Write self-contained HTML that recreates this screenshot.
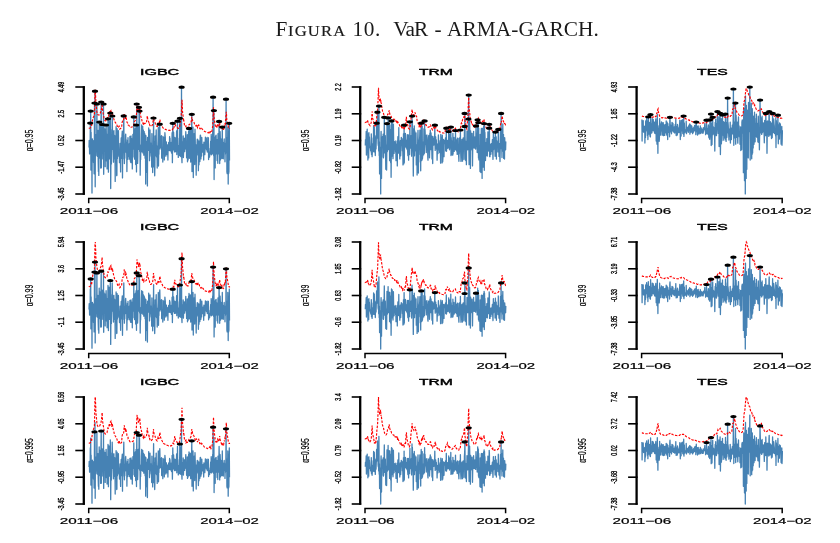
<!DOCTYPE html>
<html lang="es"><head><meta charset="utf-8"><title>Figura 10. VaR - ARMA-GARCH</title>
<style>html,body{margin:0;padding:0;background:#fff}body{width:840px;height:543px;overflow:hidden;position:relative}svg{position:absolute;left:0;top:0;display:block}.cap{position:absolute;left:0;top:17px;width:840px;height:24px;margin:0;font-family:"Liberation Serif",serif;font-size:21.3px;line-height:24px;color:#1a1a1a;white-space:pre;font-weight:normal}.cap span.sc{font-size:15.5px}.cap span{position:absolute;top:0}</style></head><body>
<h1 class="cap"><span style="left:275.5px;letter-spacing:0.6px">F<span class="sc" style="position:static;display:inline-block;transform:scaleX(1.07);transform-origin:0 50%;letter-spacing:1.1px;-webkit-text-stroke:0.2px #1a1a1a">IGURA</span> </span><span style="left:352.6px;letter-spacing:0.6px">10.  </span><span style="left:393.3px;letter-spacing:-0.9px">VaR </span><span style="left:434.4px">- </span><span style="left:447px;letter-spacing:0.1px">ARMA-GARCH.</span></h1>
<svg width="840" height="543" viewBox="0 0 840 543" font-family="'Liberation Sans',sans-serif">
<g>
<polyline fill="none" stroke="#4682b4" stroke-width="1.3" stroke-linejoin="round" points="89,147.4 89.2,140.4 89.4,141.7 89.6,153.9 89.9,151.5 90.1,153 90.3,123.1 90.5,148.1 90.7,111.1 90.9,170.1 91.1,132.3 91.3,149.1 91.6,140.9 91.8,149.6 92,193 92.2,142.2 92.4,138.8 92.6,149.8 92.8,149.2 93.1,140.6 93.3,156.1 93.5,162.5 93.7,142.2 93.9,156 94.1,173.8 94.3,155.6 94.5,103 94.8,163.6 95,91.2 95.2,186.8 95.4,134.6 95.6,149.8 95.8,155.6 96,139.8 96.2,134.5 96.5,151.3 96.7,141.3 96.9,104 97.1,150.5 97.3,156.3 97.5,139.8 97.7,142.2 98,130.4 98.2,161.7 98.4,171.6 98.6,160.5 98.8,175.4 99,145.2 99.2,122.1 99.4,158.3 99.7,126.1 99.9,130.5 100.1,130.5 100.3,135.5 100.5,129 100.7,168.1 100.9,132.4 101.2,102 101.4,167.8 101.6,139.4 101.8,150.5 102,132 102.2,124.5 102.4,147.7 102.6,141.1 102.9,158.9 103.1,127.4 103.3,149.5 103.5,104 103.7,174.3 103.9,126.5 104.1,135.6 104.4,149.9 104.6,137.3 104.8,128.8 105,132.8 105.2,166.7 105.4,133.8 105.6,138.8 105.8,148.6 106.1,125 106.3,132.2 106.5,160.9 106.7,141.4 106.9,134.1 107.1,168.9 107.3,151.4 107.5,164.3 107.8,144.9 108,118.8 108.2,132.3 108.4,172.2 108.6,153.3 108.8,133.4 109,120.9 109.3,138.3 109.5,158.9 109.7,141.1 109.9,147.8 110.1,150.5 110.3,113 110.5,140.2 110.7,188.6 111,148.8 111.2,150.4 111.4,163.9 111.6,152 111.8,129.7 112,149.4 112.2,116 112.5,131.9 112.7,141.2 112.9,137.1 113.1,146.4 113.3,152.1 113.5,162.2 113.7,131.1 113.9,130.7 114.2,157.6 114.4,155.5 114.6,135.5 114.8,159.3 115,151.4 115.2,181.4 115.4,142.3 115.7,135.8 115.9,147.1 116.1,126.6 116.3,153.1 116.5,142.1 116.7,175.7 116.9,175.2 117.1,128.6 117.4,158.5 117.6,140 117.8,140.6 118,131.2 118.2,138.7 118.4,130.6 118.6,148.8 118.8,156.3 119.1,156.3 119.3,155.3 119.5,162.7 119.7,156.6 119.9,149 120.1,143.3 120.3,151.6 120.6,171.9 120.8,148.7 121,144.6 121.2,137.8 121.4,139.6 121.6,158.3 121.8,156.6 122,135.6 122.3,131.1 122.5,177.9 122.7,140.1 122.9,159.1 123.1,142.2 123.3,138.6 123.5,134.5 123.8,115.9 124,143.3 124.2,144.5 124.4,163.5 124.6,149.9 124.8,158.3 125,145.6 125.2,152.2 125.5,135.4 125.7,134.1 125.9,142.7 126.1,139.6 126.3,145.9 126.5,152.7 126.7,149.2 126.9,171.6 127.2,142.5 127.4,147.4 127.6,140.2 127.8,159.4 128,137.7 128.2,156.9 128.4,156.2 128.7,149.8 128.9,153.9 129.1,143.8 129.3,153.9 129.5,159.2 129.7,154.1 129.9,136.5 130.1,147 130.4,161.3 130.6,147.4 130.8,162.5 131,135.9 131.2,162.5 131.4,139.5 131.6,138.7 131.9,161.2 132.1,143.8 132.3,168.9 132.5,139 132.7,142.9 132.9,134.4 133.1,145.3 133.3,142.8 133.6,149.2 133.8,116.9 134,157 134.2,130 134.4,154.7 134.6,159.1 134.8,137.6 135.1,129.8 135.3,128.3 135.5,153.2 135.7,164.5 135.9,154.7 136.1,125 136.3,144.8 136.5,171.9 136.8,104 137,157 137.2,154.1 137.4,160.5 137.6,163.4 137.8,156.9 138,136.3 138.2,125 138.5,147.7 138.7,133 138.9,149.3 139.1,107.3 139.3,145.8 139.5,111.1 139.7,151.4 140,144.8 140.2,175.2 140.4,153.9 140.6,159.7 140.8,150 141,149.4 141.2,152 141.4,134.2 141.7,125 141.9,151.6 142.1,134.7 142.3,134.9 142.5,133.7 142.7,126.3 142.9,152.9 143.2,137.7 143.4,130.1 143.6,138.1 143.8,155.2 144,141.5 144.2,131.6 144.4,144 144.6,154.1 144.9,133.8 145.1,158.3 145.3,142.8 145.5,147.7 145.7,184.1 145.9,135.6 146.1,144 146.4,161.8 146.6,141.3 146.8,151.4 147,172.5 147.2,156.4 147.4,185.9 147.6,137.5 147.8,144.8 148.1,146.9 148.3,140.1 148.5,150.4 148.7,127.9 148.9,144.8 149.1,142.6 149.3,139.8 149.5,160.7 149.8,153.7 150,130 150.2,143.3 150.4,150.2 150.6,143 150.8,152.1 151,144 151.3,156.3 151.5,144.9 151.7,167 151.9,133.6 152.1,152.2 152.3,161.5 152.5,149.5 152.7,172.5 153,145.7 153.2,159.4 153.4,139 153.6,118 153.8,166.9 154,141.7 154.2,152.3 154.5,143.7 154.7,175.8 154.9,165.9 155.1,135.9 155.3,147.9 155.5,139.9 155.7,155.6 155.9,143.2 156.2,129.8 156.4,155.8 156.6,156.9 156.8,148 157,148.1 157.2,168 157.4,145.8 157.7,156.8 157.9,144.9 158.1,139 158.3,127.2 158.5,166 158.7,148.9 158.9,154.2 159.1,141.3 159.4,149.1 159.6,128.1 159.8,124.2 160,135 160.2,145 160.4,147.8 160.6,143.7 160.8,137 161.1,142.7 161.3,149.5 161.5,135.6 161.7,158.2 161.9,148 162.1,154 162.3,152.1 162.6,152.6 162.8,162 163,136.4 163.2,139.2 163.4,148.7 163.6,137.5 163.8,141.9 164,144.2 164.3,159.9 164.5,148.7 164.7,142.4 164.9,132.7 165.1,135.6 165.3,137.3 165.5,152.3 165.8,156.2 166,142.3 166.2,147.3 166.4,142 166.6,148.1 166.8,146 167,154.7 167.2,144.7 167.5,149.1 167.7,145.6 167.9,160 168.1,147.9 168.3,145.7 168.5,147.6 168.7,142.3 169,142.6 169.2,150.6 169.4,150 169.6,136.6 169.8,148.1 170,138.1 170.2,144 170.4,150.9 170.7,150.8 170.9,146.4 171.1,145 171.3,142.5 171.5,153.1 171.7,150 171.9,148 172.1,132.6 172.4,162.7 172.6,143 172.8,123.3 173,144.1 173.2,150 173.4,143 173.6,132.2 173.9,142.5 174.1,140 174.3,142.5 174.5,151.9 174.7,137.4 174.9,148.6 175.1,151.9 175.3,147.7 175.6,148.8 175.8,138 176,147.8 176.2,151.3 176.4,140 176.6,130.8 176.8,154.6 177.1,140.6 177.3,148.3 177.5,121.2 177.7,148.9 177.9,138.1 178.1,146.4 178.3,157.4 178.5,147.7 178.8,154.4 179,145.3 179.2,155.5 179.4,155.6 179.6,145.8 179.8,118.3 180,155.6 180.3,136 180.5,122.8 180.7,156.5 180.9,129.9 181.1,151.5 181.3,149.7 181.5,87.2 181.7,156.4 182,162.7 182.2,141.6 182.4,151.9 182.6,149.2 182.8,154.1 183,149.7 183.2,135.9 183.4,157.5 183.7,149.4 183.9,146.3 184.1,138.6 184.3,138.3 184.5,149.8 184.7,151.6 184.9,144.2 185.2,149 185.4,148.8 185.6,136.9 185.8,131.7 186,145.8 186.2,148.5 186.4,141.4 186.6,157.8 186.9,147.6 187.1,153.9 187.3,134.7 187.5,161.8 187.7,146.3 187.9,148.5 188.1,160.1 188.4,140.6 188.6,131.5 188.8,152.6 189,128.4 189.2,136.5 189.4,158.3 189.6,134.9 189.8,130.3 190.1,145 190.3,148 190.5,134.8 190.7,162.1 190.9,146.1 191.1,129.5 191.3,160.8 191.6,129.8 191.8,114.3 192,171.6 192.2,148.9 192.4,160.6 192.6,143.1 192.8,159.5 193,127.1 193.3,177.5 193.5,142.6 193.7,153.7 193.9,152.2 194.1,133.7 194.3,144.2 194.5,151.2 194.7,164.6 195,129.2 195.2,137.9 195.4,150.2 195.6,145.1 195.8,158.1 196,157.8 196.2,175.2 196.5,144.9 196.7,144.8 196.9,155 197.1,142.4 197.3,139.1 197.5,145.6 197.7,139.3 197.9,150.6 198.2,148.4 198.4,170.7 198.6,147.8 198.8,140.8 199,164.8 199.2,142.3 199.4,156.2 199.7,149.3 199.9,161.5 200.1,138.6 200.3,135.2 200.5,135.3 200.7,139.1 200.9,158.9 201.1,152.7 201.4,151.5 201.6,156 201.8,137.4 202,145.4 202.2,147.6 202.4,144.5 202.6,152.2 202.8,150.6 203.1,151.4 203.3,144.2 203.5,145.8 203.7,160 203.9,142.2 204.1,154.1 204.3,149.5 204.6,146.5 204.8,154.6 205,150.3 205.2,141.5 205.4,137.2 205.6,140.2 205.8,147.1 206,148.4 206.3,137.8 206.5,149.8 206.7,144.2 206.9,141.6 207.1,149.3 207.3,152 207.5,147.6 207.8,137.5 208,141.2 208.2,145.6 208.4,137.9 208.6,159.5 208.8,152 209,154.6 209.2,152.4 209.5,157.1 209.7,156 209.9,153.5 210.1,148.4 210.3,154.2 210.5,144.5 210.7,141.1 211,148.5 211.2,134.4 211.4,143.5 211.6,154.8 211.8,148.8 212,152.7 212.2,136.3 212.4,153.8 212.7,131.3 212.9,135.9 213.1,97.2 213.3,132.2 213.5,114.1 213.7,155.7 213.9,110.5 214.1,179.6 214.4,142.8 214.6,165.1 214.8,137.4 215,162.2 215.2,167.9 215.4,142.5 215.6,135.8 215.9,153.9 216.1,135.2 216.3,146 216.5,150.6 216.7,140.2 216.9,139.7 217.1,160.6 217.3,139.9 217.6,140.5 217.8,163.3 218,133.7 218.2,139.3 218.4,153.9 218.6,140.9 218.8,147 219.1,121.4 219.3,136.2 219.5,145.8 219.7,163.6 219.9,132.4 220.1,131.6 220.3,137.6 220.5,159.8 220.8,157.4 221,139 221.2,154.6 221.4,146.6 221.6,155.6 221.8,149 222,158.4 222.3,127.1 222.5,157 222.7,148.4 222.9,149 223.1,142.6 223.3,158.8 223.5,147.8 223.7,149.4 224,141.7 224.2,139 224.4,151.6 224.6,143.2 224.8,150.9 225,161.8 225.2,148.8 225.4,153.9 225.7,147.8 225.9,137.2 226.1,99.2 226.3,152.5 226.5,141.3 226.7,137.3 226.9,171.8 227.2,173.7 227.4,160.8 227.6,148.7 227.8,127.1 228,139.9 228.2,184.1 228.4,150.6 228.6,173.7 228.9,171.7 229.1,137.8 229.3,123.3 229.5,160.4"/>
<polyline fill="none" stroke="#f00" stroke-width="1.15" stroke-dasharray="2.4 1.4" points="89,128.5 89.1,128.3 89.8,128.2 90.5,127.7 91.3,124.6 91.7,126.3 92,122.8 92.6,119.5 92.8,118.6 93.5,116.9 94.3,115.1 94.4,114.4 95,92.6 95.3,89.7 95.8,99.9 95.8,103.1 96.5,108.4 96.9,111.9 97.3,113.4 97.3,113.7 98,114.8 98.3,114.9 98.8,115 99.5,114.8 99.6,114.5 100.3,113.2 100.5,112.1 101,111.5 101.2,110.6 101.8,106.9 102.1,103.6 102.5,109.4 102.7,111 103.3,114.2 103.7,115.9 104,118.1 104.2,118.8 104.8,120.3 105.1,120.7 105.5,120.8 106.3,120.5 106.9,119.8 107,119.8 107.8,116.6 107.8,115.9 108.5,116.1 109.3,112.9 109.9,114.4 110,111.8 110.8,110.8 110.8,111.7 111.5,111.2 111.7,115 112.3,112.7 113,116.1 113.6,118.4 113.8,118.8 114.5,121.5 114.5,121.5 115.3,122.4 116,123.3 116.5,123.5 116.8,124.6 117.6,126.9 117.6,127 118.3,127.8 119.1,126.2 119.8,128.2 119.9,129 120.6,128.4 121.3,128 121.6,127.7 122.1,122.5 122.5,121.2 122.8,120.4 123.6,120.3 123.6,120.4 124.3,113.9 124.5,115 125.1,115.5 125.3,119 125.8,116.6 126.6,120.1 127,122.2 127.3,122.7 128.1,123.6 128.1,124.9 128.8,125.3 129.6,126.5 130.2,127.3 130.3,127.3 131.1,127.2 131.8,127 132.6,126.8 133.3,126.6 133.4,126.3 134.1,123.2 134.3,121.6 134.8,121.1 135.6,120 136.2,118.7 136.3,116.6 137.1,105.5 137.1,106.2 137.5,109 137.8,107.6 138.4,111.7 138.6,110.8 138.9,111.1 139.3,109.5 139.8,108.2 140.1,111.4 140.4,114.5 140.8,116.3 141.6,118.9 141.6,118.8 142.3,122.3 142.4,122.2 143.1,123.6 143.8,122.5 143.9,124 144.6,123.3 145.4,123.3 146.1,123.2 146.4,122.9 146.9,119.8 147.3,115.9 147.6,118 147.9,119.9 148.4,121.1 149.1,122.8 149.2,122.6 149.7,124.9 149.9,125.4 150.6,126.4 150.8,126.4 151.4,126.1 152.1,125.4 152.6,124.7 152.9,122.7 153.5,116.9 153.6,118 154.1,120.9 154.4,121.8 155.1,122.7 155.3,123.4 155.9,125 155.9,125.2 156.6,126 157.1,126.4 157.4,126.4 158.1,123.4 158.9,124.2 159,124.9 159.6,120.8 159.9,119.6 160.4,122.3 160.6,123.7 161.1,124.7 161.9,126.1 162.2,126.4 162.6,127.3 163.3,128.1 163.4,128.4 164.1,128.7 164.9,129.1 165.6,129.3 165.6,129.5 166.4,129.7 167.1,129.9 167.9,130.1 168.6,130.3 169,130.2 169.4,130.4 170.1,130.4 170.9,130.4 171.3,130.2 171.6,130.2 172.4,129.8 173.1,128.1 173.8,128.7 173.9,127.8 174.7,122.9 174.7,122.5 175.4,125.2 175.4,125.3 176.2,126.3 176.8,127 176.9,127.3 177.4,127.8 177.7,128.1 178.4,128.4 178.6,128.3 179.2,127.8 179.5,127.1 179.9,125 180.4,121.6 180.7,120.6 181.1,117.7 181.4,112.4 182,99.8 182.2,103.8 182.6,112.6 182.9,114.4 183.6,121 183.7,119.6 184.4,124.6 184.5,125.4 185.2,126.5 185.9,125.9 186.1,127.8 186.7,127.2 187.4,127.5 188.2,127.6 188.2,127.5 188.9,125.2 189.1,124.5 189.7,124.3 190.4,123.7 190.9,123.1 191.2,121.7 191.8,116.9 191.9,117.7 192.6,120.3 192.7,120.8 193.4,121.9 194.1,122.6 194.2,123.1 194.9,124.9 194.9,125.2 195.7,125.9 196.4,125.9 196.4,124.5 197.2,126.6 197.5,127.4 197.9,125.5 198.7,125 199.4,127.2 199.8,128.6 200.2,128.5 200.9,129.5 201,129.6 201.7,128.4 202.5,129.4 203.2,130 203.3,130.1 204,130.9 204.4,131.3 204.7,131.5 205.5,131.8 206.2,132.1 206.7,132.1 207,132.4 207.7,132.6 208.5,132.8 209.2,131.8 210,131 210.1,132.6 210.7,131.9 211,132.5 211.5,131.5 211.9,131 212.2,129.2 212.6,126.8 213,119.4 213.5,107.3 213.7,111.5 214.1,117.6 214.5,120.6 215.1,124.5 215.2,125.1 215.7,126.8 216,127.3 216.7,126.2 216.9,127.7 217.5,125.1 218.2,126.2 218.8,127 219,125.6 219.7,122.5 219.7,122.7 220.1,125.4 220.5,126.2 221.1,127.3 221.2,128.1 221.6,128.8 222,127.7 222.7,129.9 222.7,129.4 223.5,129.5 223.6,129.5 224.2,126 224.5,126.8 225,123.9 225.4,124.2 225.7,118.8 226.3,111.9 226.5,114.3 226.8,119.4 227.2,121.4 227.9,124.5 228,125.1 228.4,127.3 228.7,128.1 229.5,128.4 229.5,129"/>
<ellipse cx="95" cy="91.2" rx="3.1" ry="1.6" fill="#000"/>
<ellipse cx="94.5" cy="103" rx="3.1" ry="1.6" fill="#000"/>
<ellipse cx="96.9" cy="104" rx="3.1" ry="1.6" fill="#000"/>
<ellipse cx="101.2" cy="102" rx="3.1" ry="1.6" fill="#000"/>
<ellipse cx="103.6" cy="104" rx="3.1" ry="1.6" fill="#000"/>
<ellipse cx="90.7" cy="111.1" rx="3.1" ry="1.6" fill="#000"/>
<ellipse cx="110.3" cy="113" rx="3.1" ry="1.6" fill="#000"/>
<ellipse cx="112.3" cy="116" rx="3.1" ry="1.6" fill="#000"/>
<ellipse cx="108" cy="118.8" rx="3.1" ry="1.6" fill="#000"/>
<ellipse cx="90.2" cy="123.1" rx="3.1" ry="1.6" fill="#000"/>
<ellipse cx="99.3" cy="122.1" rx="3.1" ry="1.6" fill="#000"/>
<ellipse cx="102.2" cy="124.5" rx="3.1" ry="1.6" fill="#000"/>
<ellipse cx="106" cy="125" rx="3.1" ry="1.6" fill="#000"/>
<ellipse cx="123.7" cy="115.9" rx="3.1" ry="1.6" fill="#000"/>
<ellipse cx="136.7" cy="104" rx="3.1" ry="1.6" fill="#000"/>
<ellipse cx="139" cy="107.3" rx="3.1" ry="1.6" fill="#000"/>
<ellipse cx="139.5" cy="111.1" rx="3.1" ry="1.6" fill="#000"/>
<ellipse cx="133.8" cy="116.9" rx="3.1" ry="1.6" fill="#000"/>
<ellipse cx="136.2" cy="125" rx="3.1" ry="1.6" fill="#000"/>
<ellipse cx="153.5" cy="118" rx="3.1" ry="1.6" fill="#000"/>
<ellipse cx="159.7" cy="124.2" rx="3.1" ry="1.6" fill="#000"/>
<ellipse cx="172.7" cy="123.3" rx="3.1" ry="1.6" fill="#000"/>
<ellipse cx="177.5" cy="121.2" rx="3.1" ry="1.6" fill="#000"/>
<ellipse cx="179.9" cy="118.3" rx="3.1" ry="1.6" fill="#000"/>
<ellipse cx="181.6" cy="87.2" rx="3.1" ry="1.6" fill="#000"/>
<ellipse cx="189" cy="128.4" rx="3.1" ry="1.6" fill="#000"/>
<ellipse cx="191.8" cy="114.3" rx="3.1" ry="1.6" fill="#000"/>
<ellipse cx="213.1" cy="97.2" rx="3.1" ry="1.6" fill="#000"/>
<ellipse cx="213.9" cy="110.5" rx="3.1" ry="1.6" fill="#000"/>
<ellipse cx="219.1" cy="121.4" rx="3.1" ry="1.6" fill="#000"/>
<ellipse cx="222.2" cy="127.1" rx="3.1" ry="1.6" fill="#000"/>
<ellipse cx="226" cy="99.2" rx="3.1" ry="1.6" fill="#000"/>
<ellipse cx="229.2" cy="123.3" rx="3.1" ry="1.6" fill="#000"/>
<path d="M83.8 86.2 V194.8" stroke="#000" stroke-width="2.3" fill="none"/>
<path d="M75.3 194 H84.8" stroke="#000" stroke-width="1.6" fill="none"/>
<text transform="translate(64.2 194) rotate(-90)" font-size="8.7" text-anchor="middle" textLength="13" lengthAdjust="spacingAndGlyphs" fill="#000" stroke="#000" stroke-width="0.35">-3.45</text>
<path d="M75.3 167.2 H84.8" stroke="#000" stroke-width="1.6" fill="none"/>
<text transform="translate(64.2 167.2) rotate(-90)" font-size="8.7" text-anchor="middle" textLength="13" lengthAdjust="spacingAndGlyphs" fill="#000" stroke="#000" stroke-width="0.35">-1.47</text>
<path d="M75.3 140.5 H84.8" stroke="#000" stroke-width="1.6" fill="none"/>
<text transform="translate(64.2 140.5) rotate(-90)" font-size="8.7" text-anchor="middle" textLength="10.4" lengthAdjust="spacingAndGlyphs" fill="#000" stroke="#000" stroke-width="0.35">0.52</text>
<path d="M75.3 113.8 H84.8" stroke="#000" stroke-width="1.6" fill="none"/>
<text transform="translate(64.2 113.8) rotate(-90)" font-size="8.7" text-anchor="middle" textLength="7.5" lengthAdjust="spacingAndGlyphs" fill="#000" stroke="#000" stroke-width="0.35">2.5</text>
<path d="M75.3 87 H84.8" stroke="#000" stroke-width="1.6" fill="none"/>
<text transform="translate(64.2 87) rotate(-90)" font-size="8.7" text-anchor="middle" textLength="10.4" lengthAdjust="spacingAndGlyphs" fill="#000" stroke="#000" stroke-width="0.35">4.49</text>
<text transform="translate(32.7 140.5) rotate(-90)" font-size="10.3" text-anchor="middle" textLength="21.5" lengthAdjust="spacingAndGlyphs" fill="#000" stroke="#000" stroke-width="0.2">α=0.95</text>
<path d="M88.7 203.2 V198.4 H229.3 V203.2" stroke="#000" stroke-width="1.5" fill="none"/>
<text x="89" y="213.6" font-size="8.9" text-anchor="middle" textLength="58.6" lengthAdjust="spacingAndGlyphs" fill="#000" stroke="#000" stroke-width="0.2">2011−06</text>
<text x="229.5" y="213.6" font-size="8.9" text-anchor="middle" textLength="58.6" lengthAdjust="spacingAndGlyphs" fill="#000" stroke="#000" stroke-width="0.2">2014−02</text>
<text x="159.6" y="74.8" font-size="9.9" text-anchor="middle" textLength="39.3" lengthAdjust="spacingAndGlyphs" fill="#000" stroke="#000" stroke-width="0.45">IGBC</text>
</g>
<g>
<polyline fill="none" stroke="#4682b4" stroke-width="1.3" stroke-linejoin="round" points="365.3,145.6 365.5,139.6 365.7,140.8 365.9,142.8 366.2,131.5 366.4,155.1 366.6,148.5 366.8,151.9 367,146.6 367.2,129.2 367.4,145.7 367.6,139.2 367.9,160 368.1,144.5 368.3,150.2 368.5,133.6 368.7,157.9 368.9,132.6 369.1,145.8 369.4,137 369.6,140.4 369.8,147.2 370,147.8 370.2,146.1 370.4,148.3 370.6,150.5 370.8,146.9 371.1,152 371.3,133.8 371.5,154.6 371.7,137.8 371.9,152.3 372.1,156.7 372.3,153.1 372.5,146.4 372.8,148.3 373,143.7 373.2,151.4 373.4,143.7 373.6,125.7 373.8,141.3 374,151.9 374.3,127.1 374.5,147 374.7,139.5 374.9,135.6 375.1,149.4 375.3,155.6 375.5,147.3 375.7,137.5 376,148.9 376.2,142.7 376.4,134.8 376.6,123.2 376.8,138.2 377,123.1 377.2,138.1 377.5,112.2 377.7,137.5 377.9,120.2 378.1,143.4 378.3,145.5 378.5,140.5 378.7,151.1 378.9,106.1 379.2,155.4 379.4,141.8 379.6,173.9 379.8,158.3 380,170.5 380.2,148.3 380.4,147.2 380.7,193.9 380.9,138.1 381.1,131.4 381.3,142.6 381.5,178.4 381.7,156.3 381.9,157.1 382.1,140.2 382.4,137.4 382.6,136.5 382.8,138.5 383,138.6 383.2,134.2 383.4,157.8 383.6,156.2 383.8,141.8 384.1,136.4 384.3,117.3 384.5,134.3 384.7,152.8 384.9,148.9 385.1,143.7 385.3,135.7 385.6,155.8 385.8,169.3 386,145 386.2,151.2 386.4,147.7 386.6,170 386.8,151.2 387,123.6 387.3,151.6 387.5,148.3 387.7,147.8 387.9,145.2 388.1,117.9 388.3,145.7 388.5,149.6 388.8,140.3 389,124.7 389.2,148.6 389.4,139.4 389.6,160.7 389.8,125 390,138 390.2,129.3 390.5,146.1 390.7,162.7 390.9,135.6 391.1,177.3 391.3,153.5 391.5,120.9 391.7,135.2 392,147.2 392.2,121.9 392.4,156 392.6,150.3 392.8,147.3 393,158.7 393.2,152.1 393.4,124.1 393.7,146.5 393.9,153 394.1,153.4 394.3,141.6 394.5,142.1 394.7,143.5 394.9,149.6 395.1,144.3 395.4,144.1 395.6,151.9 395.8,141 396,160.7 396.2,157.7 396.4,147.1 396.6,146.1 396.9,156.5 397.1,143.9 397.3,165.9 397.5,141 397.7,143 397.9,136.7 398.1,140.1 398.3,153.2 398.6,148.2 398.8,127.6 399,153 399.2,144.6 399.4,148.4 399.6,152 399.8,158.9 400.1,144.7 400.3,140.6 400.5,143.1 400.7,155.8 400.9,147.7 401.1,142.4 401.3,137.4 401.5,140.4 401.8,139.8 402,138.7 402.2,141.3 402.4,150.8 402.6,144.9 402.8,149.9 403,164.9 403.2,156.2 403.5,133.7 403.7,152.5 403.9,163.8 404.1,125.2 404.3,162.5 404.5,146 404.7,143.8 405,147.1 405.2,146 405.4,133.5 405.6,138.5 405.8,146.1 406,140.6 406.2,140.3 406.4,148 406.7,144.1 406.9,144.2 407.1,149.6 407.3,134.7 407.5,147.4 407.7,152.3 407.9,155.7 408.2,153 408.4,134.8 408.6,160.2 408.8,140.5 409,147.8 409.2,139.4 409.4,142 409.6,154.6 409.9,121.8 410.1,144.4 410.3,144.1 410.5,145.8 410.7,148 410.9,140.4 411.1,135.6 411.4,141.5 411.6,156.2 411.8,142.5 412,116.1 412.2,142.1 412.4,120.5 412.6,147.3 412.8,145.7 413.1,154.3 413.3,176.1 413.5,156 413.7,128.7 413.9,140.6 414.1,150.1 414.3,125.8 414.5,155.8 414.8,131 415,135.7 415.2,139.3 415.4,147.9 415.6,146.7 415.8,150.9 416,132.8 416.3,164.9 416.5,153.1 416.7,144.7 416.9,153.7 417.1,175 417.3,147.4 417.5,157.6 417.7,140.4 418,130.3 418.2,145 418.4,173 418.6,147.3 418.8,161.9 419,140.1 419.2,141 419.5,140.1 419.7,136.7 419.9,130.1 420.1,139.4 420.3,154.6 420.5,141.2 420.7,170.8 420.9,138.3 421.2,123.2 421.4,135.4 421.6,141.8 421.8,160.6 422,138.5 422.2,126 422.4,159 422.7,155.6 422.9,154.9 423.1,142.5 423.3,150.6 423.5,151.7 423.7,154.8 423.9,129 424.1,148 424.4,153.3 424.6,120.9 424.8,144.3 425,129.3 425.2,133.8 425.4,140.9 425.6,144.1 425.8,144.2 426.1,148 426.3,152.5 426.5,135.5 426.7,148.5 426.9,135 427.1,146.6 427.3,145.5 427.6,145.8 427.8,157.7 428,160.2 428.2,141.6 428.4,137.6 428.6,136.4 428.8,135.5 429,142 429.3,144.7 429.5,157.8 429.7,150.9 429.9,133.2 430.1,143.8 430.3,130.2 430.5,146.4 430.8,149.5 431,132.8 431.2,138.4 431.4,140.5 431.6,135.8 431.8,148.1 432,158.9 432.2,144.1 432.5,154.3 432.7,163.6 432.9,136.4 433.1,140.7 433.3,137.8 433.5,144.6 433.7,145.2 434,139.2 434.2,143.3 434.4,144.8 434.6,140.5 434.8,125.2 435,141.2 435.2,150.4 435.4,141.7 435.7,136.8 435.9,148.7 436.1,139.9 436.3,139.7 436.5,148.3 436.7,149.4 436.9,145 437.1,160.2 437.4,147.5 437.6,144 437.8,147.7 438,153.5 438.2,147.3 438.4,135 438.6,139.7 438.9,146.6 439.1,149.8 439.3,145.6 439.5,145.3 439.7,152.7 439.9,148.9 440.1,142 440.3,140.4 440.6,163.2 440.8,134.5 441,144.9 441.2,140.4 441.4,145.6 441.6,141.2 441.8,137.2 442.1,162.9 442.3,135.2 442.5,143.4 442.7,161.8 442.9,158.4 443.1,142.2 443.3,154.8 443.5,139.5 443.8,144.1 444,156.7 444.2,140.3 444.4,143.5 444.6,140.3 444.8,140.1 445,143.5 445.3,141.1 445.5,137.9 445.7,150.9 445.9,146.6 446.1,146 446.3,128.2 446.5,151.3 446.7,147.5 447,144.3 447.2,144.2 447.4,140.3 447.6,147.6 447.8,148.3 448,147.5 448.2,146.6 448.4,147.7 448.7,131.6 448.9,142.5 449.1,135.5 449.3,139.6 449.5,149.8 449.7,147.1 449.9,134.1 450.2,146.4 450.4,143.5 450.6,146.2 450.8,127.1 451,155.6 451.2,137.6 451.4,142.8 451.6,140.7 451.9,154.5 452.1,147.2 452.3,150.6 452.5,146.9 452.7,155.2 452.9,133.3 453.1,154.1 453.4,143.2 453.6,150.3 453.8,142.5 454,137.4 454.2,151.4 454.4,142.3 454.6,146 454.8,144.6 455.1,144 455.3,149.5 455.5,130.5 455.7,149.2 455.9,148.5 456.1,150.1 456.3,139.8 456.6,151 456.8,141.8 457,143.5 457.2,154.4 457.4,138.2 457.6,153.7 457.8,140.3 458,138.5 458.3,153.5 458.5,151.2 458.7,157 458.9,161.3 459.1,147.9 459.3,153.7 459.5,137.9 459.7,147.7 460,145.8 460.2,151.3 460.4,130 460.6,149.6 460.8,155.9 461,161.4 461.2,156.1 461.5,150.6 461.7,142.5 461.9,139.5 462.1,139.6 462.3,149 462.5,161.2 462.7,141.4 462.9,139.5 463.2,137.9 463.4,145.8 463.6,146.7 463.8,142.5 464,159.6 464.2,158.3 464.4,132.6 464.7,126.4 464.9,113.4 465.1,136.9 465.3,143.2 465.5,141.2 465.7,160.5 465.9,146.5 466.1,147.6 466.4,164.7 466.6,141.2 466.8,145.3 467,131.1 467.2,137.9 467.4,149.1 467.6,149.8 467.9,145.9 468.1,149.5 468.3,129.6 468.5,119.1 468.7,95.1 468.9,150.8 469.1,164.7 469.3,147.6 469.6,118.9 469.8,131.2 470,146 470.2,142.7 470.4,168.4 470.6,130.8 470.8,148.5 471,132.8 471.3,146.7 471.5,148.9 471.7,141.3 471.9,149.9 472.1,133.3 472.3,142.6 472.5,165.9 472.8,142.9 473,147.7 473.2,141.6 473.4,142.5 473.6,131.3 473.8,144.7 474,142.7 474.2,148.2 474.5,147.6 474.7,147.2 474.9,136.8 475.1,143.4 475.3,138.3 475.5,148.1 475.7,149.1 476,125.9 476.2,135.5 476.4,134 476.6,146.5 476.8,137.6 477,136.8 477.2,152.5 477.4,137.5 477.7,119.8 477.9,148.6 478.1,127.3 478.3,122.5 478.5,157.9 478.7,128.3 478.9,159.9 479.1,146 479.4,149.4 479.6,146 479.8,157.2 480,171.6 480.2,134.3 480.4,154.1 480.6,154.6 480.9,172.5 481.1,141.2 481.3,128.9 481.5,128.5 481.7,136.2 481.9,128.5 482.1,178.4 482.3,142.1 482.6,128.5 482.8,144.6 483,142.4 483.2,167 483.4,141.9 483.6,126.4 483.8,145.3 484.1,123.6 484.3,170.3 484.5,125.6 484.7,138.4 484.9,132.4 485.1,141.3 485.3,155.9 485.5,160.5 485.8,142.6 486,145.1 486.2,155.5 486.4,145.5 486.6,148.5 486.8,138.7 487,147.4 487.3,156.1 487.5,146 487.7,148 487.9,131.8 488.1,147.6 488.3,151 488.5,145.9 488.7,146.7 489,144.4 489.2,124.3 489.4,128.2 489.6,156.7 489.8,146.2 490,156.7 490.2,148.5 490.4,144.2 490.7,152.2 490.9,154.3 491.1,147.8 491.3,146.2 491.5,143.7 491.7,151.4 491.9,144.6 492.2,143.1 492.4,139.6 492.6,150.2 492.8,154.5 493,159.4 493.2,141.5 493.4,132.6 493.6,149.6 493.9,143.3 494.1,137.3 494.3,140.3 494.5,148.3 494.7,140.9 494.9,146.6 495.1,156.3 495.4,132.1 495.6,141.8 495.8,150.7 496,143.3 496.2,136.9 496.4,159 496.6,140.5 496.8,142.6 497.1,145.4 497.3,144.7 497.5,147.1 497.7,141.6 497.9,151.9 498.1,146 498.3,129.4 498.6,144.3 498.8,143.9 499,156.4 499.2,151.9 499.4,143.7 499.6,150 499.8,157 500,161.5 500.3,143.3 500.5,129.8 500.7,148.6 500.9,140.9 501.1,113.4 501.3,146.4 501.5,144.5 501.7,144.6 502,157.5 502.2,129.3 502.4,128.3 502.6,138 502.8,123.9 503,151.2 503.2,147.3 503.5,134.5 503.7,158.4 503.9,152.8 504.1,143.1 504.3,156 504.5,159 504.7,137.7 504.9,143.2 505.2,141.7 505.4,149.6 505.6,149.8 505.8,141.6"/>
<polyline fill="none" stroke="#f00" stroke-width="1.15" stroke-dasharray="2.4 1.4" points="365.3,122.2 365.3,122.4 366.1,122.2 366.7,121.9 366.8,121.8 367.6,120.2 367.6,120.5 368.3,123.4 368.3,123.2 369.1,124.4 369.8,125.3 369.8,125.1 370.6,124.1 371.2,122.7 371.3,121.8 372.1,112.5 372.1,111.4 372.6,117.9 372.8,118.8 373.6,121.8 373.7,122.2 374.2,125.1 374.3,125.7 375.1,125.4 375.1,126.6 375.8,124.6 376,124.8 376.6,118.6 376.9,115.2 377.3,112.4 377.6,110.3 378.1,99 378.5,87.8 378.8,95.1 378.9,96.1 379.6,101.5 379.7,101.6 380.3,99.9 380.6,98.5 381,103.5 381.1,102.5 381.8,106.5 381.9,107.3 382.5,110.9 382.6,111.2 383.3,113.1 383.5,113.3 384.1,116.2 384.3,116.9 384.8,118 385.6,119.2 385.8,119.3 386.3,119 386.7,118.4 387.1,117.1 387.6,114.4 387.8,114.5 388.3,113.7 388.6,113.1 389.2,110.4 389.3,111.4 389.8,114 390.1,114.8 390.8,116.2 391.1,116.3 391.6,117.7 392,118.1 392.3,118.6 393.1,119.1 393.8,119.3 393.9,119.6 394.6,119.4 394.7,120.6 395.4,120.9 396.1,120.9 396.5,121.7 396.9,120.4 397.5,123.3 397.6,121.4 398.4,123.3 399.1,124.4 399.5,125 399.9,125.9 400.3,126.9 400.6,127.2 401.4,126.4 401.8,127.8 402.1,128 402.5,128.9 402.9,127.6 403.6,127.7 404.1,129.6 404.4,128 405.1,125.8 405.5,127.2 405.9,121.4 406.4,116.9 406.6,119.3 406.9,122.4 407.4,124 408,126.1 408.1,126.8 408.4,127.9 408.9,128.6 409.3,129.1 409.6,128.4 410,127.3 410.4,124.3 410.9,119.3 411.1,117.7 411.9,111.3 412.1,109.5 412.6,113.1 412.7,113 413.4,114.7 413.9,115.3 414.1,115 414.9,113.1 415,112.4 415.6,114.8 415.6,115.2 416.4,116.3 416.6,116.3 417.1,120.6 417.2,121 417.9,123 418.5,124.2 418.6,125.2 419,126.3 419.4,125.5 420,127.8 420.1,127.3 420.9,125.4 421,126.7 421.7,121.9 421.9,122.6 422.4,121.7 422.6,122.4 423.2,120.6 423.5,119.9 423.9,119.9 424.2,122.8 424.7,122.9 425.4,124.4 425.8,124.9 426.2,124.9 426.5,126.1 426.9,126.2 427.7,126.8 428,127.1 428.4,127.1 429.2,126.9 429.4,126.7 429.9,126 430.3,124.9 430.7,125.2 431.1,127.8 431.4,128 432.2,129.3 432.6,129.8 432.9,128.9 433.7,127.5 434.4,128.2 434.4,128.9 435.2,125.4 435.3,125 435.9,127.9 435.9,128 436.7,129.3 437.2,130 437.4,130.5 437.9,131 438.2,130.3 438.9,130.6 439.5,131.8 439.7,131.6 440.4,132.1 441.2,132.4 441.7,132.6 441.9,132.7 442.7,132.9 443.4,133 444,133 444.2,133 444.9,132.3 444.9,132.4 445.7,128.8 445.8,128.8 446.4,128.3 446.5,128.4 447.2,126.7 447.4,126.1 447.9,127.8 448.2,128.5 448.7,129.1 449.4,128.3 449.7,129.7 450.2,129.6 451,130.3 451.7,130.9 452,131 452.5,130.9 452.7,130.7 453.2,129.9 453.6,129.1 454,129 454.7,128.6 455.4,128.1 455.5,128.4 456,129.8 456.2,130.2 457,130.9 457.3,131 457.7,131.5 458.5,131.9 458.9,131.8 459.2,130.3 460,130.2 460.2,130.4 460.7,126.8 461.1,123.9 461.5,122.8 461.8,123.1 462.2,121.1 462.7,119.1 463,118.9 463.7,118.3 463.7,118.2 464.5,113.2 464.6,113.9 464.9,120 465.2,121.3 465.7,124.1 466,126.3 466.1,127 466.7,128.8 466.8,129 467.5,120.7 467.8,118.9 468.2,106.9 468.7,97.4 469,105.3 469,106.9 469.7,112.8 469.8,113.3 470.3,118.6 470.5,119.3 471.2,121.8 471.4,122.2 472,124.1 472,124 472.7,124.9 473.2,125.1 473.5,125.9 473.8,126.3 474.2,126.9 474.8,127.1 475,127.1 475.7,126.4 475.8,126.2 476.5,123.1 476.7,122.2 477.2,120.8 477.4,121.3 478,118.9 478.3,118.2 478.8,120.2 478.9,120.6 479.5,121.6 480.1,122.2 480.3,122.8 480.6,123.1 481,121.7 481.7,123.9 481.8,123.1 482.5,121.2 482.8,121.3 483.3,121 484,120.7 484,119.4 484.5,123.8 484.8,123.9 485.5,125.8 485.6,126 486.2,127.8 486.3,128 487,128.8 487.4,128.9 487.8,127.5 488.5,127.8 488.8,128 489.3,125.7 489.7,124.1 490,125.8 490.4,127.7 490.8,128.3 491.5,129.5 491.9,130 492.3,130.7 492.7,131 493,130.3 493.8,131.3 494.2,131.9 494.5,131.8 495.3,131.7 496,131.6 496.5,131.4 496.8,131.5 497.5,131.4 497.9,131.2 498.3,130.8 498.8,130 499,129.9 499.7,129 499.8,128.8 500.5,124.8 500.6,124.1 501.3,121.7 501.3,122.4 502,117 502.2,116.1 502.7,119.7 502.8,119.8 503.5,121.7 503.8,122 504.3,121.8 504.4,123.5 505,123.8 505.6,125 505.8,124.9"/>
<ellipse cx="379" cy="106.1" rx="3.1" ry="1.6" fill="#000"/>
<ellipse cx="377.4" cy="112.2" rx="3.1" ry="1.6" fill="#000"/>
<ellipse cx="376.7" cy="123.2" rx="3.1" ry="1.6" fill="#000"/>
<ellipse cx="384.2" cy="117.3" rx="3.1" ry="1.6" fill="#000"/>
<ellipse cx="388.1" cy="117.9" rx="3.1" ry="1.6" fill="#000"/>
<ellipse cx="387" cy="123.6" rx="3.1" ry="1.6" fill="#000"/>
<ellipse cx="391.5" cy="120.9" rx="3.1" ry="1.6" fill="#000"/>
<ellipse cx="404.1" cy="125.2" rx="3.1" ry="1.6" fill="#000"/>
<ellipse cx="409.8" cy="121.8" rx="3.1" ry="1.6" fill="#000"/>
<ellipse cx="412.1" cy="116.1" rx="3.1" ry="1.6" fill="#000"/>
<ellipse cx="421.2" cy="123.2" rx="3.1" ry="1.6" fill="#000"/>
<ellipse cx="424.6" cy="120.9" rx="3.1" ry="1.6" fill="#000"/>
<ellipse cx="434.9" cy="125.2" rx="3.1" ry="1.6" fill="#000"/>
<ellipse cx="446.3" cy="128.2" rx="3.1" ry="1.6" fill="#000"/>
<ellipse cx="448.6" cy="131.6" rx="3.1" ry="1.6" fill="#000"/>
<ellipse cx="450.9" cy="127.1" rx="3.1" ry="1.6" fill="#000"/>
<ellipse cx="455.4" cy="130.5" rx="3.1" ry="1.6" fill="#000"/>
<ellipse cx="460.4" cy="130" rx="3.1" ry="1.6" fill="#000"/>
<ellipse cx="464.6" cy="126.4" rx="3.1" ry="1.6" fill="#000"/>
<ellipse cx="464.6" cy="113.4" rx="3.1" ry="1.6" fill="#000"/>
<ellipse cx="468.7" cy="95.1" rx="3.1" ry="1.6" fill="#000"/>
<ellipse cx="468.4" cy="119.1" rx="3.1" ry="1.6" fill="#000"/>
<ellipse cx="476" cy="125.9" rx="3.1" ry="1.6" fill="#000"/>
<ellipse cx="477.6" cy="119.8" rx="3.1" ry="1.6" fill="#000"/>
<ellipse cx="478.3" cy="122.5" rx="3.1" ry="1.6" fill="#000"/>
<ellipse cx="484" cy="123.6" rx="3.1" ry="1.6" fill="#000"/>
<ellipse cx="489.2" cy="124.3" rx="3.1" ry="1.6" fill="#000"/>
<ellipse cx="489.2" cy="128.2" rx="3.1" ry="1.6" fill="#000"/>
<ellipse cx="495.4" cy="132.1" rx="3.1" ry="1.6" fill="#000"/>
<ellipse cx="498.3" cy="129.4" rx="3.1" ry="1.6" fill="#000"/>
<ellipse cx="501.1" cy="113.4" rx="3.1" ry="1.6" fill="#000"/>
<path d="M360.2 86.2 V194.8" stroke="#000" stroke-width="2.3" fill="none"/>
<path d="M351.7 194 H361.2" stroke="#000" stroke-width="1.6" fill="none"/>
<text transform="translate(340.6 194) rotate(-90)" font-size="8.7" text-anchor="middle" textLength="13" lengthAdjust="spacingAndGlyphs" fill="#000" stroke="#000" stroke-width="0.35">-1.82</text>
<path d="M351.7 167.2 H361.2" stroke="#000" stroke-width="1.6" fill="none"/>
<text transform="translate(340.6 167.2) rotate(-90)" font-size="8.7" text-anchor="middle" textLength="13" lengthAdjust="spacingAndGlyphs" fill="#000" stroke="#000" stroke-width="0.35">-0.82</text>
<path d="M351.7 140.5 H361.2" stroke="#000" stroke-width="1.6" fill="none"/>
<text transform="translate(340.6 140.5) rotate(-90)" font-size="8.7" text-anchor="middle" textLength="10.4" lengthAdjust="spacingAndGlyphs" fill="#000" stroke="#000" stroke-width="0.35">0.19</text>
<path d="M351.7 113.8 H361.2" stroke="#000" stroke-width="1.6" fill="none"/>
<text transform="translate(340.6 113.8) rotate(-90)" font-size="8.7" text-anchor="middle" textLength="10.4" lengthAdjust="spacingAndGlyphs" fill="#000" stroke="#000" stroke-width="0.35">1.19</text>
<path d="M351.7 87 H361.2" stroke="#000" stroke-width="1.6" fill="none"/>
<text transform="translate(340.6 87) rotate(-90)" font-size="8.7" text-anchor="middle" textLength="7.5" lengthAdjust="spacingAndGlyphs" fill="#000" stroke="#000" stroke-width="0.35">2.2</text>
<text transform="translate(309.1 140.5) rotate(-90)" font-size="10.3" text-anchor="middle" textLength="21.5" lengthAdjust="spacingAndGlyphs" fill="#000" stroke="#000" stroke-width="0.2">α=0.95</text>
<path d="M365 203.2 V198.4 H505.6 V203.2" stroke="#000" stroke-width="1.5" fill="none"/>
<text x="365.3" y="213.6" font-size="8.9" text-anchor="middle" textLength="58.6" lengthAdjust="spacingAndGlyphs" fill="#000" stroke="#000" stroke-width="0.2">2011−06</text>
<text x="505.8" y="213.6" font-size="8.9" text-anchor="middle" textLength="58.6" lengthAdjust="spacingAndGlyphs" fill="#000" stroke="#000" stroke-width="0.2">2014−02</text>
<text x="435.9" y="74.8" font-size="9.9" text-anchor="middle" textLength="33.8" lengthAdjust="spacingAndGlyphs" fill="#000" stroke="#000" stroke-width="0.45">TRM</text>
</g>
<g>
<polyline fill="none" stroke="#4682b4" stroke-width="1.3" stroke-linejoin="round" points="641.9,119.5 642.1,141 642.3,124.5 642.5,129.4 642.8,122.1 643,127.6 643.2,120.6 643.4,129.7 643.6,132.1 643.8,127 644,127.6 644.2,131.4 644.5,130.9 644.7,126.1 644.9,143 645.1,132.2 645.3,131.3 645.5,137.4 645.7,120.8 646,131 646.2,123 646.4,127.5 646.6,118 646.8,121.6 647,128 647.2,121.3 647.4,135.4 647.7,121 647.9,139.6 648.1,127 648.3,116.8 648.5,126.8 648.7,131.9 648.9,134.1 649.1,132 649.4,122.5 649.6,122.7 649.8,131.1 650,136.2 650.2,125.5 650.4,136.9 650.6,114.5 650.9,133.5 651.1,123.7 651.3,128.6 651.5,127 651.7,127.9 651.9,132.8 652.1,125.8 652.3,118.6 652.6,130.1 652.8,123.3 653,130.7 653.2,119.3 653.4,122.1 653.6,122.2 653.8,126.6 654.1,121.9 654.3,132 654.5,132 654.7,133.1 654.9,122.8 655.1,133.5 655.3,133.4 655.5,123 655.8,118.8 656,124.9 656.2,141 656.4,135.7 656.6,136.3 656.8,137.2 657,144.2 657.3,114.3 657.5,131.8 657.7,133.1 657.9,153.3 658.1,129.2 658.3,128.7 658.5,133.3 658.7,129.9 659,125.6 659.2,141.3 659.4,138.4 659.6,118.6 659.8,123.5 660,132.8 660.2,134.7 660.4,130.7 660.7,135.1 660.9,131.6 661.1,123.7 661.3,128.8 661.5,121.8 661.7,130.8 661.9,127.8 662.2,123 662.4,135.2 662.6,131.2 662.8,130.5 663,128.4 663.2,122.6 663.4,125.6 663.6,135.7 663.9,130.9 664.1,134.6 664.3,133.8 664.5,124.8 664.7,135.4 664.9,128 665.1,132.8 665.4,124.6 665.6,127.5 665.8,128.9 666,130.2 666.2,121 666.4,133.7 666.6,133.4 666.8,135.1 667.1,122.1 667.3,131.1 667.5,133.5 667.7,139.6 667.9,123.7 668.1,130.3 668.3,126.3 668.6,127.4 668.8,129.9 669,132.4 669.2,131.1 669.4,131.1 669.6,136.8 669.8,119.9 670,117.3 670.3,129.3 670.5,130.5 670.7,131.9 670.9,125.3 671.1,130.4 671.3,127.5 671.5,133.8 671.7,127.7 672,122.4 672.2,130.9 672.4,124.7 672.6,129.6 672.8,123.1 673,123.8 673.2,129.5 673.5,132 673.7,128.3 673.9,129.6 674.1,131.6 674.3,126.9 674.5,127.1 674.7,133 674.9,130.2 675.2,124.5 675.4,126.2 675.6,129.5 675.8,119.1 676,131.2 676.2,135.5 676.4,134.5 676.7,134.3 676.9,129 677.1,126.4 677.3,135.1 677.5,124.3 677.7,133 677.9,128.7 678.1,127.9 678.4,128.2 678.6,129.8 678.8,128.9 679,132.5 679.2,128.6 679.4,125.7 679.6,125.4 679.8,120.2 680.1,124.7 680.3,139.6 680.5,125.1 680.7,128.1 680.9,134.2 681.1,136.1 681.3,120.4 681.6,124.8 681.8,121 682,130.8 682.2,126.6 682.4,119.7 682.6,125 682.8,133.5 683,131.5 683.3,125.7 683.5,134.2 683.7,116.1 683.9,136.4 684.1,133.4 684.3,122.8 684.5,129.2 684.8,131.5 685,132.6 685.2,130.1 685.4,130.3 685.6,131 685.8,130.4 686,131.3 686.2,121.2 686.5,133.7 686.7,129.4 686.9,132 687.1,127.6 687.3,130.3 687.5,128.8 687.7,127.9 688,129.1 688.2,126.6 688.4,132.3 688.6,125.8 688.8,130.3 689,128.4 689.2,124.9 689.4,125.9 689.7,123.9 689.9,134.2 690.1,132.2 690.3,124.6 690.5,132.3 690.7,130.3 690.9,127.4 691.1,125.3 691.4,132.2 691.6,126.7 691.8,126 692,129.4 692.2,130.2 692.4,128.8 692.6,133.7 692.9,129.2 693.1,132.6 693.3,127.8 693.5,127.8 693.7,131.8 693.9,127.1 694.1,128.2 694.3,130 694.6,125.5 694.8,130.7 695,130.5 695.2,129.6 695.4,130 695.6,124.8 695.8,134.7 696.1,130.7 696.3,122.1 696.5,131.3 696.7,128.7 696.9,129.9 697.1,126.2 697.3,128.8 697.5,135.1 697.8,132.8 698,127.6 698.2,125.9 698.4,129.7 698.6,133.5 698.8,128.1 699,134 699.3,128.8 699.5,130.1 699.7,129.2 699.9,133 700.1,131.1 700.3,126 700.5,131 700.7,133.5 701,130.1 701.2,129.8 701.4,130.3 701.6,131.8 701.8,127.9 702,130.3 702.2,133 702.4,129.4 702.7,130.1 702.9,129.7 703.1,133.2 703.3,131.9 703.5,128.9 703.7,127.7 703.9,129.2 704.2,129.6 704.4,128 704.6,126.8 704.8,123.6 705,128.3 705.2,131.1 705.4,128.3 705.6,134.7 705.9,129.8 706.1,130.9 706.3,129.9 706.5,120.2 706.7,129.8 706.9,133.6 707.1,130.8 707.4,132.7 707.6,130 707.8,128.5 708,134.3 708.2,127.2 708.4,124.9 708.6,131 708.8,137.3 709.1,137.9 709.3,132.4 709.5,126.2 709.7,139.3 709.9,119.8 710.1,136.8 710.3,124.7 710.6,123.7 710.8,134.9 711,114.1 711.2,145.6 711.4,123.8 711.6,127.6 711.8,123.8 712,144.6 712.3,128.1 712.5,132.7 712.7,117.3 712.9,134.7 713.1,130.5 713.3,126.7 713.5,129.1 713.7,133.4 714,127.7 714.2,130.6 714.4,134.6 714.6,135.7 714.8,151 715,129.3 715.2,122.3 715.5,133.2 715.7,119.1 715.9,128.1 716.1,123.5 716.3,135.7 716.5,135.4 716.7,131.7 716.9,124.1 717.2,128.7 717.4,111.6 717.6,128 717.8,124.1 718,128.4 718.2,133.4 718.4,125.8 718.7,129 718.9,116.9 719.1,146.5 719.3,129 719.5,132.1 719.7,120.2 719.9,119.7 720.1,113.4 720.4,154.5 720.6,142.4 720.8,127.3 721,121.6 721.2,118.7 721.4,143.8 721.6,131 721.9,140.6 722.1,136.8 722.3,131.4 722.5,115 722.7,133.3 722.9,135 723.1,132.3 723.3,121.7 723.6,122 723.8,140.2 724,131.9 724.2,133.2 724.4,123.1 724.6,127.4 724.8,122.2 725,138.1 725.3,129.7 725.5,114.1 725.7,140 725.9,131.4 726.1,141.4 726.3,122.7 726.5,125.7 726.8,137.4 727,135 727.2,118.5 727.4,133.1 727.6,98.1 727.8,126 728,122.5 728.2,124.8 728.5,131.5 728.7,134.3 728.9,140 729.1,130.1 729.3,129.2 729.5,132.4 729.7,130.9 730,136.3 730.2,122.2 730.4,143 730.6,134.7 730.8,132.9 731,130.7 731.2,128.1 731.4,139.6 731.7,128.2 731.9,133.2 732.1,130.7 732.3,125.1 732.5,125.9 732.7,133.9 732.9,130.3 733.2,118 733.4,89 733.6,124.3 733.8,145.3 734,121.9 734.2,126.3 734.4,133.5 734.6,137.9 734.9,123.3 735.1,125.5 735.3,116.2 735.5,103.1 735.7,144.2 735.9,132.9 736.1,115.2 736.3,123.5 736.6,134.8 736.8,137.3 737,130.7 737.2,132 737.4,122.1 737.6,135.1 737.8,143.2 738.1,130 738.3,122 738.5,116.9 738.7,135.3 738.9,132.5 739.1,125.8 739.3,136.7 739.5,132.3 739.8,133.6 740,144.3 740.2,137.2 740.4,136.3 740.6,126.8 740.8,150.5 741,128.5 741.3,146.8 741.5,141.7 741.7,149.5 741.9,122 742.1,120.8 742.3,119.8 742.5,123.3 742.7,133.2 743,129.1 743.2,126.3 743.4,172.7 743.6,122.2 743.8,108.4 744,165.2 744.2,137.8 744.5,180.7 744.7,136.1 744.9,132.6 745.1,101.3 745.3,193.9 745.5,95.8 745.7,130.7 745.9,122.9 746.2,178.4 746.4,105.4 746.6,136.3 746.8,169.3 747,136.5 747.2,157 747.4,110.2 747.6,128.1 747.9,129.6 748.1,140.7 748.3,157.9 748.5,102.5 748.7,122.7 748.9,131.7 749.1,123.9 749.4,102.8 749.6,116.3 749.8,87.1 750,135.7 750.2,160.1 750.4,118.2 750.6,148.7 750.8,113.9 751.1,146.5 751.3,103.2 751.5,145.5 751.7,158.8 751.9,126 752.1,154.5 752.3,108.7 752.6,153 752.8,135.9 753,133.9 753.2,147.9 753.4,131.8 753.6,116.2 753.8,130.2 754,144.3 754.3,123.8 754.5,112.2 754.7,122.6 754.9,118.5 755.1,141.8 755.3,123.7 755.5,123.3 755.7,132.2 756,130.2 756.2,136.3 756.4,114.2 756.6,132.2 756.8,137.3 757,127.8 757.2,128.7 757.5,123.5 757.7,136.9 757.9,141.9 758.1,124.4 758.3,116.2 758.5,124.6 758.7,142.4 758.9,127.5 759.2,137.4 759.4,149.8 759.6,136 759.8,135.5 760,100.1 760.2,110.2 760.4,117.8 760.7,120.8 760.9,132.8 761.1,128.4 761.3,130.1 761.5,117.7 761.7,134.4 761.9,133.3 762.1,116.2 762.4,126.1 762.6,132.3 762.8,128.8 763,128.8 763.2,128.5 763.4,123 763.6,127.3 763.9,131 764.1,134.2 764.3,142.8 764.5,132.9 764.7,120.3 764.9,127.7 765.1,135.3 765.3,131.4 765.6,135.7 765.8,113.4 766,122.1 766.2,121.6 766.4,124.3 766.6,121.4 766.8,131.7 767,153.3 767.3,129.6 767.5,133.4 767.7,120.8 767.9,128.6 768.1,134.8 768.3,125.7 768.5,123.1 768.8,136.4 769,115.7 769.2,111.6 769.4,130.6 769.6,135.1 769.8,129.6 770,127.4 770.2,121.6 770.5,122.3 770.7,127.2 770.9,135.2 771.1,127.8 771.3,132.9 771.5,138.5 771.7,123.2 772,135.1 772.2,137.7 772.4,129 772.6,113.4 772.8,130.2 773,126.8 773.2,132.7 773.4,128.7 773.7,119 773.9,121.7 774.1,124.3 774.3,125.8 774.5,133.5 774.7,130.8 774.9,132.5 775.2,129.5 775.4,128.8 775.6,136.1 775.8,117.7 776,147.6 776.2,126.9 776.4,120.6 776.6,130.1 776.9,134.7 777.1,129.6 777.3,122.9 777.5,126.3 777.7,132.3 777.9,115.2 778.1,131.1 778.3,143.8 778.6,128.6 778.8,125 779,124.8 779.2,130.3 779.4,139 779.6,122.9 779.8,131.1 780.1,124.8 780.3,123.9 780.5,127.7 780.7,130.4 780.9,135.3 781.1,144.2 781.3,129.6 781.5,133.3 781.8,126.5 782,145.3 782.2,140 782.4,130.2"/>
<polyline fill="none" stroke="#f00" stroke-width="1.15" stroke-dasharray="2.4 1.4" points="641.9,116 642.6,116.4 642.7,116.3 643.4,116.5 644.2,116.6 644.9,116.8 645.7,116.9 646,116.8 646.4,116.9 647.2,116.8 647.9,116.8 648.7,116.2 649.4,116.4 649.6,116.5 650.2,115.9 650.5,115.5 650.9,116.1 651.3,116.6 651.7,116.9 652.4,117.2 652.8,117.3 653.2,116.9 653.9,117.2 654.7,117.3 655.1,117.3 655.4,116.6 656,116.5 656.2,115.4 656.9,113.3 656.9,113.5 657.7,109.8 658.1,108.9 658.4,111.9 658.5,112.3 659.2,114.4 659.2,114.6 659.7,116.2 659.9,116.5 660.7,117.3 660.8,117.4 661.4,117.6 662.2,117.8 662.9,117.6 663.7,118 664.2,118.3 664.4,118.3 665.2,117.8 665.9,118.1 666.5,118.2 666.7,117.8 667.4,117.6 668.2,117.8 668.4,118 668.9,117.1 669.3,116.8 669.7,116.7 670.5,116.6 671.1,116.4 671.2,116.6 672,117.2 672.2,117.3 672.7,117.5 673.5,117.7 674.2,117.9 674.5,117.9 675,118 675.7,118.1 676.5,118.2 677.2,118.3 677.9,118.3 678,118.4 678.7,118.2 679.5,118.1 680.2,117.6 681,117.7 681.4,117.6 681.7,117.2 682.5,117.4 683.2,117.4 683.6,117.3 684,117.8 684.6,118.5 684.7,118.6 685.5,118.5 686.2,119 686.6,119.2 687,119.3 687.7,119.6 688.5,119.9 689.2,120.2 689.3,120.1 690,120.7 690.7,120.9 690.9,121.2 691.5,121.3 692.2,121.6 693,121.8 693.7,121.6 693.9,121.9 694.5,122 695.2,121.9 696,122.1 696.7,122.5 697.3,122.9 697.5,122.8 698.3,122.8 699,123 699.8,123.1 700.5,123.3 700.8,123.3 701.3,123.2 702,123.1 702.8,123 703,122.9 703.5,122.9 704.3,122.6 705,122.6 705.8,122.6 706.5,122.4 706.7,122.5 707.3,121.5 707.6,121 708,121 708.8,120.9 709.5,120.5 710.1,120.7 710.3,120.3 711,119.2 711,119.2 711.8,119.1 712.5,119.1 713.3,119 713.6,118.9 714,118.1 714.5,117.3 714.8,116.8 715.5,116.9 716.3,116.9 717,116.7 717,116.2 717.8,114.1 717.9,114.4 718.5,114.1 719.3,114.2 719.3,114.1 720,113 720.2,112.7 720.8,114.1 721.1,114.7 721.5,115.1 722.3,115.6 723,116.1 723.1,116.1 723.8,116.7 724,116.9 724.5,117.1 725.3,117.3 725.9,117.4 726,117.4 726.8,116.7 727.6,116.4 727.7,116.9 728.3,115.7 728.6,115.4 729.1,115.6 729.8,116.1 730.4,116.3 730.6,115.8 731.3,115.4 731.8,115.1 732.1,113.4 732.7,109 732.8,109 733.6,108.5 733.6,108.4 734.3,105.5 734.5,105.2 735.1,107.3 735.1,108.4 735.8,109.5 736.4,110.8 736.6,111.3 737,112.5 737.3,112.8 738.1,113.5 738.4,113.7 738.8,114.5 739.2,115.1 739.6,115.5 740.3,115.9 740.7,116.1 741.1,116 741.8,115.8 742.3,115.5 742.6,114.9 743.2,113 743.3,111.8 744.1,101.5 744.1,101.5 744.8,99.6 744.8,99.3 745.6,91.9 745.7,90.5 746.3,88.4 746.9,89.4 747.1,90.1 747.3,91.7 747.8,92.5 748.2,93.3 748.6,94.5 748.8,95 749.3,95.8 749.8,96.2 750.1,97.5 750.6,99.5 750.8,100 751.6,100.2 752.1,101.6 752.3,102.1 752.9,103.6 753.1,102.8 753.8,103.3 754.4,105 754.6,104.7 755,107.3 755.4,107.5 756.1,108.7 756.2,109 756.7,110.1 756.9,110.2 757.6,110.8 757.8,110.9 758.4,110.8 758.7,110.6 759.1,110.3 759.6,109.4 759.9,109.5 760.6,109.3 761.2,108.9 761.4,108.9 762,111.4 762.1,111.4 762.9,112.4 763.5,113.1 763.6,113.3 764.3,114.6 764.4,114.7 765.1,115.2 765.8,115.5 765.9,115.6 766.6,115.2 767.4,114.8 767.6,114.5 768.1,113.7 768.9,113.6 769.2,113.6 769.6,114 770,114.4 770.4,114.6 771.1,114.2 771.5,114.8 771.9,114.8 772.6,115.2 773.4,114.8 773.8,115.4 774.1,115.6 774.5,116.2 774.9,116.3 775.6,116.7 776.1,116.8 776.4,116.9 777.1,117.1 777.9,117.3 778.4,117.4 778.6,117.6 779.4,118 780.1,118.3 780.2,118.3 780.9,118 781.6,118.2 781.8,118.2 782.4,117.7"/>
<ellipse cx="650.5" cy="114.5" rx="3.1" ry="1.6" fill="#000"/>
<ellipse cx="648.3" cy="116.8" rx="3.1" ry="1.6" fill="#000"/>
<ellipse cx="669.9" cy="117.3" rx="3.1" ry="1.6" fill="#000"/>
<ellipse cx="683.6" cy="116.1" rx="3.1" ry="1.6" fill="#000"/>
<ellipse cx="696.2" cy="122.1" rx="3.1" ry="1.6" fill="#000"/>
<ellipse cx="706.5" cy="120.2" rx="3.1" ry="1.6" fill="#000"/>
<ellipse cx="709.9" cy="119.8" rx="3.1" ry="1.6" fill="#000"/>
<ellipse cx="712.6" cy="117.3" rx="3.1" ry="1.6" fill="#000"/>
<ellipse cx="711" cy="114.1" rx="3.1" ry="1.6" fill="#000"/>
<ellipse cx="717.4" cy="111.6" rx="3.1" ry="1.6" fill="#000"/>
<ellipse cx="720.2" cy="113.4" rx="3.1" ry="1.6" fill="#000"/>
<ellipse cx="722.4" cy="115" rx="3.1" ry="1.6" fill="#000"/>
<ellipse cx="725.4" cy="114.1" rx="3.1" ry="1.6" fill="#000"/>
<ellipse cx="727.7" cy="98.1" rx="3.1" ry="1.6" fill="#000"/>
<ellipse cx="733.4" cy="89" rx="3.1" ry="1.6" fill="#000"/>
<ellipse cx="735.4" cy="103.1" rx="3.1" ry="1.6" fill="#000"/>
<ellipse cx="749.8" cy="87.1" rx="3.1" ry="1.6" fill="#000"/>
<ellipse cx="760.1" cy="100.1" rx="3.1" ry="1.6" fill="#000"/>
<ellipse cx="765.8" cy="113.4" rx="3.1" ry="1.6" fill="#000"/>
<ellipse cx="769.2" cy="111.6" rx="3.1" ry="1.6" fill="#000"/>
<ellipse cx="772.7" cy="113.4" rx="3.1" ry="1.6" fill="#000"/>
<ellipse cx="777.9" cy="115.2" rx="3.1" ry="1.6" fill="#000"/>
<path d="M636.6 86.2 V194.8" stroke="#000" stroke-width="2.3" fill="none"/>
<path d="M628.1 194 H637.6" stroke="#000" stroke-width="1.6" fill="none"/>
<text transform="translate(617 194) rotate(-90)" font-size="8.7" text-anchor="middle" textLength="13" lengthAdjust="spacingAndGlyphs" fill="#000" stroke="#000" stroke-width="0.35">-7.38</text>
<path d="M628.1 167.2 H637.6" stroke="#000" stroke-width="1.6" fill="none"/>
<text transform="translate(617 167.2) rotate(-90)" font-size="8.7" text-anchor="middle" textLength="10.1" lengthAdjust="spacingAndGlyphs" fill="#000" stroke="#000" stroke-width="0.35">-4.3</text>
<path d="M628.1 140.5 H637.6" stroke="#000" stroke-width="1.6" fill="none"/>
<text transform="translate(617 140.5) rotate(-90)" font-size="8.7" text-anchor="middle" textLength="13" lengthAdjust="spacingAndGlyphs" fill="#000" stroke="#000" stroke-width="0.35">-1.22</text>
<path d="M628.1 113.8 H637.6" stroke="#000" stroke-width="1.6" fill="none"/>
<text transform="translate(617 113.8) rotate(-90)" font-size="8.7" text-anchor="middle" textLength="10.4" lengthAdjust="spacingAndGlyphs" fill="#000" stroke="#000" stroke-width="0.35">1.85</text>
<path d="M628.1 87 H637.6" stroke="#000" stroke-width="1.6" fill="none"/>
<text transform="translate(617 87) rotate(-90)" font-size="8.7" text-anchor="middle" textLength="10.4" lengthAdjust="spacingAndGlyphs" fill="#000" stroke="#000" stroke-width="0.35">4.93</text>
<text transform="translate(585.5 140.5) rotate(-90)" font-size="10.3" text-anchor="middle" textLength="21.5" lengthAdjust="spacingAndGlyphs" fill="#000" stroke="#000" stroke-width="0.2">α=0.95</text>
<path d="M641.6 203.2 V198.4 H782.2 V203.2" stroke="#000" stroke-width="1.5" fill="none"/>
<text x="641.9" y="213.6" font-size="8.9" text-anchor="middle" textLength="58.6" lengthAdjust="spacingAndGlyphs" fill="#000" stroke="#000" stroke-width="0.2">2011−06</text>
<text x="782.4" y="213.6" font-size="8.9" text-anchor="middle" textLength="58.6" lengthAdjust="spacingAndGlyphs" fill="#000" stroke="#000" stroke-width="0.2">2014−02</text>
<text x="712.4" y="74.8" font-size="9.9" text-anchor="middle" textLength="30.6" lengthAdjust="spacingAndGlyphs" fill="#000" stroke="#000" stroke-width="0.45">TES</text>
</g>
<g>
<polyline fill="none" stroke="#4682b4" stroke-width="1.3" stroke-linejoin="round" points="89,309.6 89.2,303.7 89.4,304.8 89.6,315.1 89.9,313 90.1,314.3 90.3,289 90.5,310.2 90.7,278.9 90.9,328.8 91.1,296.8 91.3,311 91.6,304.1 91.8,311.5 92,348.2 92.2,305.2 92.4,302.3 92.6,311.6 92.8,311.1 93.1,303.8 93.3,317 93.5,322.4 93.7,305.2 93.9,316.9 94.1,331.9 94.3,316.5 94.5,272.1 94.8,323.3 95,262.1 95.2,342.9 95.4,298.8 95.6,311.7 95.8,316.6 96,303.2 96.2,298.7 96.5,312.9 96.7,304.4 96.9,272.9 97.1,312.2 97.3,317.1 97.5,303.2 97.7,305.2 98,295.3 98.2,321.7 98.4,330.1 98.6,320.7 98.8,333.2 99,307.8 99.2,288.2 99.4,318.8 99.7,291.6 99.9,295.3 100.1,295.3 100.3,299.5 100.5,294.1 100.7,327.1 100.9,296.9 101.2,271.2 101.4,326.9 101.6,302.8 101.8,312.2 102,296.6 102.2,290.2 102.4,309.9 102.6,304.3 102.9,319.3 103.1,292.7 103.3,311.4 103.5,272.9 103.7,332.3 103.9,291.9 104.1,299.6 104.4,311.7 104.6,301.1 104.8,293.9 105,297.3 105.2,325.9 105.4,298.1 105.6,302.3 105.8,310.6 106.1,290.7 106.3,296.7 106.5,321 106.7,304.5 106.9,298.3 107.1,327.8 107.3,313 107.5,323.9 107.8,307.5 108,285.4 108.2,296.9 108.4,330.6 108.6,314.6 108.8,297.8 109,287.2 109.3,301.9 109.5,319.4 109.7,304.3 109.9,309.9 110.1,312.2 110.3,280.5 110.5,303.5 110.7,344.4 111,310.8 111.2,312.1 111.4,323.5 111.6,313.4 111.8,294.7 112,311.2 112.2,283 112.5,296.5 112.7,304.3 112.9,300.9 113.1,308.8 113.3,313.6 113.5,322.1 113.7,295.8 113.9,295.4 114.2,318.2 114.4,316.5 114.6,299.5 114.8,319.6 115,313 115.2,338.4 115.4,305.3 115.7,299.8 115.9,309.3 116.1,292 116.3,314.4 116.5,305.1 116.7,333.5 116.9,333.1 117.1,293.7 117.4,319 117.6,303.3 117.8,303.8 118,295.9 118.2,302.2 118.4,295.4 118.6,310.8 118.8,317.2 119.1,317.1 119.3,316.3 119.5,322.5 119.7,317.4 119.9,311 120.1,306.1 120.3,313.2 120.6,330.3 120.8,310.7 121,307.3 121.2,301.5 121.4,303 121.6,318.8 121.8,317.4 122,299.7 122.3,295.8 122.5,335.3 122.7,303.4 122.9,319.5 123.1,305.2 123.3,302.2 123.5,298.7 123.8,283 124,306.1 124.2,307.1 124.4,323.2 124.6,311.7 124.8,318.8 125,308 125.2,313.7 125.5,299.5 125.7,298.4 125.9,305.6 126.1,303 126.3,308.3 126.5,314.1 126.7,311.2 126.9,330.1 127.2,305.5 127.4,309.6 127.6,303.5 127.8,319.7 128,301.4 128.2,317.7 128.4,317 128.7,311.6 128.9,315.1 129.1,306.5 129.3,315.1 129.5,319.6 129.7,315.2 129.9,300.3 130.1,309.3 130.4,321.3 130.6,309.6 130.8,322.4 131,299.8 131.2,322.4 131.4,302.9 131.6,302.2 131.9,321.2 132.1,306.6 132.3,327.8 132.5,302.5 132.7,305.8 132.9,298.6 133.1,307.8 133.3,305.7 133.6,311.1 133.8,283.8 134,317.7 134.2,294.9 134.4,315.8 134.6,319.5 134.8,301.3 135.1,294.7 135.3,293.5 135.5,314.5 135.7,324 135.9,315.8 136.1,290.7 136.3,307.4 136.5,330.3 136.8,272.9 137,317.7 137.2,315.2 137.4,320.7 137.6,323.1 137.8,317.6 138,300.2 138.2,290.6 138.5,309.9 138.7,297.4 138.9,311.2 139.1,275.7 139.3,308.2 139.5,278.9 139.7,313 140,307.4 140.2,333.1 140.4,315.1 140.6,320 140.8,311.8 141,311.3 141.2,313.5 141.4,298.4 141.7,290.7 141.9,313.1 142.1,298.8 142.3,299 142.5,298 142.7,291.7 142.9,314.3 143.2,301.4 143.4,295 143.6,301.7 143.8,316.2 144,304.6 144.2,296.2 144.4,306.8 144.6,315.2 144.9,298.1 145.1,318.8 145.3,305.7 145.5,309.8 145.7,340.6 145.9,299.6 146.1,306.7 146.4,321.8 146.6,304.4 146.8,313 147,330.8 147.2,317.2 147.4,342.1 147.6,301.2 147.8,307.4 148.1,309.2 148.3,303.4 148.5,312.1 148.7,293.1 148.9,307.4 149.1,305.5 149.3,303.1 149.5,320.9 149.8,314.9 150,294.9 150.2,306.1 150.4,312 150.6,305.9 150.8,313.6 151,306.7 151.3,317.1 151.5,307.5 151.7,326.2 151.9,297.9 152.1,313.7 152.3,321.5 152.5,311.4 152.7,330.8 153,308.2 153.2,319.7 153.4,302.5 153.6,284.7 153.8,326.1 154,304.8 154.2,313.8 154.5,306.4 154.7,333.6 154.9,325.3 155.1,299.9 155.3,310 155.5,303.3 155.7,316.5 155.9,306.1 156.2,294.7 156.4,316.7 156.6,317.6 156.8,310.1 157,310.2 157.2,327 157.4,308.2 157.7,317.5 157.9,307.5 158.1,302.5 158.3,292.5 158.5,325.3 158.7,310.9 158.9,315.4 159.1,304.5 159.4,311.1 159.6,293.3 159.8,290 160,299.1 160.2,307.5 160.4,309.9 160.6,306.4 160.8,300.8 161.1,305.6 161.3,311.4 161.5,299.6 161.7,318.7 161.9,310.1 162.1,315.2 162.3,313.6 162.6,314 162.8,322 163,300.3 163.2,302.7 163.4,310.7 163.6,301.2 163.8,304.9 164,306.9 164.3,320.2 164.5,310.7 164.7,305.4 164.9,297.1 165.1,299.6 165.3,301.1 165.5,313.7 165.8,317 166,305.2 166.2,309.6 166.4,305.1 166.6,310.2 166.8,308.4 167,315.8 167.2,307.3 167.5,311 167.7,308.1 167.9,320.3 168.1,310 168.3,308.2 168.5,309.7 168.7,305.3 169,305.6 169.2,312.3 169.4,311.8 169.6,300.5 169.8,310.2 170,301.7 170.2,306.7 170.4,312.5 170.7,312.5 170.9,308.7 171.1,307.6 171.3,305.4 171.5,314.4 171.7,311.8 171.9,310.1 172.1,297.1 172.4,322.5 172.6,305.9 172.8,289.2 173,306.8 173.2,311.8 173.4,305.9 173.6,296.8 173.9,305.4 174.1,303.3 174.3,305.4 174.5,313.4 174.7,301.1 174.9,310.6 175.1,313.4 175.3,309.9 175.6,310.8 175.8,301.6 176,309.9 176.2,312.9 176.4,303.3 176.6,295.6 176.8,315.7 177.1,303.8 177.3,310.3 177.5,287.4 177.7,310.8 177.9,301.7 178.1,308.7 178.3,318 178.5,309.9 178.8,315.5 179,307.8 179.2,316.5 179.4,316.6 179.6,308.3 179.8,285 180,316.6 180.3,300 180.5,288.8 180.7,317.3 180.9,294.8 181.1,313 181.3,311.5 181.5,258.7 181.7,317.2 182,322.5 182.2,304.7 182.4,313.4 182.6,311.1 182.8,315.2 183,311.5 183.2,299.9 183.4,318.1 183.7,311.3 183.9,308.7 184.1,302.2 184.3,301.9 184.5,311.6 184.7,313.1 184.9,306.9 185.2,310.9 185.4,310.7 185.6,300.7 185.8,296.3 186,308.2 186.2,310.5 186.4,304.5 186.6,318.4 186.9,309.8 187.1,315.1 187.3,298.9 187.5,321.8 187.7,308.7 187.9,310.5 188.1,320.3 188.4,303.8 188.6,296.2 188.8,314 189,293.5 189.2,300.4 189.4,318.9 189.6,299.1 189.8,295.1 190.1,307.6 190.3,310.1 190.5,299 190.7,322 190.9,308.5 191.1,294.5 191.3,321 191.6,294.7 191.8,281.6 192,330.1 192.2,310.9 192.4,320.8 192.6,305.9 192.8,319.8 193,292.5 193.3,335 193.5,305.5 193.7,314.9 193.9,313.6 194.1,298 194.3,306.9 194.5,312.9 194.7,324.1 195,294.2 195.2,301.6 195.4,312 195.6,307.7 195.8,318.7 196,318.4 196.2,333.1 196.5,307.5 196.7,307.4 196.9,316 197.1,305.3 197.3,302.6 197.5,308.1 197.7,302.8 197.9,312.3 198.2,310.5 198.4,329.3 198.6,309.9 198.8,304 199,324.3 199.2,305.2 199.4,317.1 199.7,311.2 199.9,321.6 200.1,302.1 200.3,299.3 200.5,299.3 200.7,302.6 200.9,319.3 201.1,314 201.4,313.1 201.6,316.9 201.8,301.1 202,307.9 202.2,309.8 202.4,307.1 202.6,313.7 202.8,312.3 203.1,313 203.3,306.9 203.5,308.3 203.7,320.3 203.9,305.2 204.1,315.3 204.3,311.3 204.6,308.8 204.8,315.7 205,312 205.2,304.6 205.4,301 205.6,303.5 205.8,309.3 206,310.5 206.3,301.5 206.5,311.6 206.7,306.9 206.9,304.7 207.1,311.2 207.3,313.5 207.5,309.7 207.8,301.2 208,304.3 208.2,308 208.4,301.5 208.6,319.8 208.8,313.5 209,315.7 209.2,313.9 209.5,317.8 209.7,316.9 209.9,314.8 210.1,310.4 210.3,315.3 210.5,307.2 210.7,304.3 211,310.5 211.2,298.6 211.4,306.3 211.6,315.8 211.8,310.8 212,314.1 212.2,300.2 212.4,315 212.7,296 212.9,299.9 213.1,267.1 213.3,296.7 213.5,281.5 213.7,316.6 213.9,278.4 214.1,336.9 214.4,305.7 214.6,324.5 214.8,301.2 215,322.1 215.2,327 215.4,305.4 215.6,299.8 215.9,315.1 216.1,299.3 216.3,308.4 216.5,312.3 216.7,303.5 216.9,303.1 217.1,320.8 217.3,303.3 217.6,303.7 217.8,323 218,298 218.2,302.7 218.4,315.1 218.6,304.1 218.8,309.3 219.1,287.6 219.3,300.1 219.5,308.2 219.7,323.3 219.9,296.9 220.1,296.2 220.3,301.3 220.5,320.1 220.8,318 221,302.5 221.2,315.7 221.4,308.9 221.6,316.5 221.8,311 222,318.9 222.3,292.4 222.5,317.7 222.7,310.5 222.9,311 223.1,305.6 223.3,319.3 223.5,310 223.7,311.3 224,304.7 224.2,302.5 224.4,313.1 224.6,306.1 224.8,312.6 225,321.8 225.2,310.8 225.4,315.1 225.7,309.9 225.9,301 226.1,268.8 226.3,313.9 226.5,304.4 226.7,301.1 226.9,330.2 227.2,331.8 227.4,320.9 227.6,310.7 227.8,292.5 228,303.3 228.2,340.6 228.4,312.3 228.6,331.9 228.9,330.2 229.1,301.4 229.3,289.2 229.5,320.6"/>
<polyline fill="none" stroke="#f00" stroke-width="1.15" stroke-dasharray="2.4 1.4" points="89,287 89.1,286.7 89.8,286.5 90.5,286 91.3,282.3 91.7,284.3 92,280.1 92.6,276.2 92.8,275.1 93.5,273.1 94.3,270.9 94.4,270.1 95,244.1 95.3,242 95.8,252.8 95.8,256.6 96.5,262.9 96.9,267.1 97.3,268.9 97.3,269.3 98,270.6 98.3,270.7 98.8,270.9 99.5,270.6 99.6,270.2 100.3,268.7 100.5,267.4 101,266.6 101.2,265.6 101.8,261.1 102.1,257.2 102.5,264.2 102.7,266 103.3,269.9 103.7,271.9 104,274.5 104.2,275.4 104.8,277.2 105.1,277.6 105.5,277.8 106.3,277.4 106.9,276.6 107,276.6 107.8,272.7 107.8,271.9 108.5,272.1 109.3,268.3 109.9,270.1 110,267 110.8,265.8 110.8,266.8 111.5,266.3 111.7,270.8 112.3,268 113,272.2 113.6,274.9 113.8,275.3 114.5,278.6 114.5,278.6 115.3,279.7 116,280.7 116.5,281 116.8,282.3 117.6,285 117.6,285.1 118.3,286.2 119.1,284.2 119.8,286.6 119.9,287.6 120.6,286.8 121.3,286.4 121.6,286 122.1,279.8 122.5,278.2 122.8,277.3 123.6,277.2 123.6,277.3 124.3,269.4 124.5,270.9 125.1,271.4 125.3,275.6 125.8,272.7 126.6,276.9 127,279.5 127.3,280 128.1,281.1 128.1,282.7 128.8,283.2 129.6,284.6 130.2,285.5 130.3,285.5 131.1,285.4 131.8,285.2 132.6,284.9 133.3,284.7 133.4,284.4 134.1,280.6 134.3,278.8 134.8,278.2 135.6,276.8 136.2,275.3 136.3,272.7 137.1,259.4 137.1,260.3 137.5,263.6 137.8,262 138.4,266.8 138.6,265.7 138.9,266.2 139.3,264.3 139.8,262.7 140.1,266.5 140.4,270.3 140.8,272.4 141.6,275.5 141.6,275.3 142.3,279.6 142.4,279.4 143.1,281 143.8,279.8 143.9,281.6 144.6,280.7 145.4,280.8 146.1,280.6 146.4,280.3 146.9,276.6 147.3,271.9 147.6,274.4 147.9,276.7 148.4,278.1 149.1,280.1 149.2,279.9 149.7,282.6 149.9,283.2 150.6,284.5 150.8,284.5 151.4,284.1 152.1,283.3 152.6,282.4 152.9,280 153.5,273.1 153.6,274.4 154.1,277.9 154.4,278.9 155.1,280 155.3,280.9 155.9,282.8 155.9,283 156.6,284 157.1,284.4 157.4,284.5 158.1,280.8 158.9,281.8 159,282.6 159.6,277.8 159.9,276.3 160.4,279.5 160.6,281.2 161.1,282.4 161.9,284.1 162.2,284.4 162.6,285.5 163.3,286.5 163.4,286.8 164.1,287.2 164.9,287.7 165.6,287.9 165.6,288.1 166.4,288.4 167.1,288.6 167.9,288.9 168.6,289.1 169,289 169.4,289.2 170.1,289.2 170.9,289.2 171.3,289 171.6,289 172.4,288.5 173.1,286.5 173.8,287.1 173.9,286.2 174.7,280.3 174.7,279.8 175.4,283 175.4,283.1 176.2,284.4 176.8,285.1 176.9,285.6 177.4,286.1 177.7,286.5 178.4,286.9 178.6,286.7 179.2,286.1 179.5,285.3 179.9,282.8 180.4,278.8 180.7,277.6 181.1,274.1 181.4,267.7 182,252.6 182.2,257.4 182.6,268 182.9,270.1 183.6,278 183.7,276.3 184.4,282.3 184.5,283.2 185.2,284.6 185.9,283.8 186.1,286.1 186.7,285.4 187.4,285.8 188.2,285.8 188.2,285.8 188.9,283 189.1,282.1 189.7,281.9 190.4,281.3 190.9,280.5 191.2,278.9 191.8,273.1 191.9,274 192.6,277.2 192.7,277.7 193.4,279 194.1,279.9 194.2,280.5 194.9,282.6 194.9,283 195.7,283.9 196.4,283.8 196.4,282.2 197.2,284.7 197.5,285.7 197.9,283.4 198.7,282.8 199.4,285.4 199.8,287 200.2,287 200.9,288.1 201,288.2 201.7,286.8 202.5,288 203.2,288.7 203.3,288.9 204,289.8 204.4,290.3 204.7,290.6 205.5,291 206.2,291.3 206.7,291.3 207,291.6 207.7,291.8 208.5,292.1 209.2,290.9 210,290 210.1,291.8 210.7,291 211,291.7 211.5,290.6 211.9,290 212.2,287.8 212.6,284.9 213,276.1 213.5,261.6 213.7,266.6 214.1,274 214.5,277.5 215.1,282.2 215.2,282.9 215.7,284.9 216,285.6 216.7,284.2 216.9,286 217.5,282.9 218.2,284.2 218.8,285.2 219,283.6 219.7,279.7 219.7,280 220.1,283.2 220.5,284.2 221.1,285.6 221.2,286.4 221.6,287.3 222,286 222.7,288.7 222.7,288 223.5,288.1 223.6,288.2 224.2,284 224.5,284.9 225,281.4 225.4,281.8 225.7,275.4 226.3,267.1 226.5,270 226.8,276.1 227.2,278.5 227.9,282.1 228,282.9 228.4,285.6 228.7,286.5 229.5,286.9 229.5,287.6"/>
<ellipse cx="95" cy="262.1" rx="3.1" ry="1.6" fill="#000"/>
<ellipse cx="90.7" cy="278.9" rx="3.1" ry="1.6" fill="#000"/>
<ellipse cx="94.5" cy="272.1" rx="3.1" ry="1.6" fill="#000"/>
<ellipse cx="96.9" cy="272.9" rx="3.1" ry="1.6" fill="#000"/>
<ellipse cx="101.2" cy="271.2" rx="3.1" ry="1.6" fill="#000"/>
<ellipse cx="110.3" cy="280.5" rx="3.1" ry="1.6" fill="#000"/>
<ellipse cx="133.8" cy="283.8" rx="3.1" ry="1.6" fill="#000"/>
<ellipse cx="136.7" cy="272.9" rx="3.1" ry="1.6" fill="#000"/>
<ellipse cx="139" cy="275.7" rx="3.1" ry="1.6" fill="#000"/>
<ellipse cx="172.7" cy="289.2" rx="3.1" ry="1.6" fill="#000"/>
<ellipse cx="179.9" cy="285" rx="3.1" ry="1.6" fill="#000"/>
<ellipse cx="181.6" cy="258.7" rx="3.1" ry="1.6" fill="#000"/>
<ellipse cx="191.8" cy="281.6" rx="3.1" ry="1.6" fill="#000"/>
<ellipse cx="213.1" cy="267.1" rx="3.1" ry="1.6" fill="#000"/>
<ellipse cx="219.1" cy="287.6" rx="3.1" ry="1.6" fill="#000"/>
<ellipse cx="226" cy="268.8" rx="3.1" ry="1.6" fill="#000"/>
<path d="M83.8 241.2 V349.8" stroke="#000" stroke-width="2.3" fill="none"/>
<path d="M75.3 349 H84.8" stroke="#000" stroke-width="1.6" fill="none"/>
<text transform="translate(64.2 349) rotate(-90)" font-size="8.7" text-anchor="middle" textLength="13" lengthAdjust="spacingAndGlyphs" fill="#000" stroke="#000" stroke-width="0.35">-3.45</text>
<path d="M75.3 322.2 H84.8" stroke="#000" stroke-width="1.6" fill="none"/>
<text transform="translate(64.2 322.2) rotate(-90)" font-size="8.7" text-anchor="middle" textLength="10.1" lengthAdjust="spacingAndGlyphs" fill="#000" stroke="#000" stroke-width="0.35">-1.1</text>
<path d="M75.3 295.5 H84.8" stroke="#000" stroke-width="1.6" fill="none"/>
<text transform="translate(64.2 295.5) rotate(-90)" font-size="8.7" text-anchor="middle" textLength="10.4" lengthAdjust="spacingAndGlyphs" fill="#000" stroke="#000" stroke-width="0.35">1.25</text>
<path d="M75.3 268.8 H84.8" stroke="#000" stroke-width="1.6" fill="none"/>
<text transform="translate(64.2 268.8) rotate(-90)" font-size="8.7" text-anchor="middle" textLength="7.5" lengthAdjust="spacingAndGlyphs" fill="#000" stroke="#000" stroke-width="0.35">3.6</text>
<path d="M75.3 242 H84.8" stroke="#000" stroke-width="1.6" fill="none"/>
<text transform="translate(64.2 242) rotate(-90)" font-size="8.7" text-anchor="middle" textLength="10.4" lengthAdjust="spacingAndGlyphs" fill="#000" stroke="#000" stroke-width="0.35">5.94</text>
<text transform="translate(32.7 295.5) rotate(-90)" font-size="10.3" text-anchor="middle" textLength="21.5" lengthAdjust="spacingAndGlyphs" fill="#000" stroke="#000" stroke-width="0.2">α=0.99</text>
<path d="M88.7 358.2 V353.4 H229.3 V358.2" stroke="#000" stroke-width="1.5" fill="none"/>
<text x="89" y="368.6" font-size="8.9" text-anchor="middle" textLength="58.6" lengthAdjust="spacingAndGlyphs" fill="#000" stroke="#000" stroke-width="0.2">2011−06</text>
<text x="229.5" y="368.6" font-size="8.9" text-anchor="middle" textLength="58.6" lengthAdjust="spacingAndGlyphs" fill="#000" stroke="#000" stroke-width="0.2">2014−02</text>
<text x="159.6" y="229.8" font-size="9.9" text-anchor="middle" textLength="39.3" lengthAdjust="spacingAndGlyphs" fill="#000" stroke="#000" stroke-width="0.45">IGBC</text>
</g>
<g>
<polyline fill="none" stroke="#4682b4" stroke-width="1.3" stroke-linejoin="round" points="365.3,309.3 365.5,304.4 365.7,305.3 365.9,307 366.2,297.7 366.4,317.1 366.6,311.7 366.8,314.5 367,310.1 367.2,295.9 367.4,309.3 367.6,304.1 367.9,321.1 368.1,308.4 368.3,313 368.5,299.4 368.7,319.4 368.9,298.6 369.1,309.5 369.4,302.2 369.6,305 369.8,310.6 370,311.1 370.2,309.7 370.4,311.5 370.6,313.3 370.8,310.3 371.1,314.5 371.3,299.6 371.5,316.7 371.7,302.9 371.9,314.8 372.1,318.4 372.3,315.4 372.5,309.9 372.8,311.5 373,307.7 373.2,314 373.4,307.8 373.6,293 373.8,305.8 374,314.4 374.3,294.1 374.5,310.5 374.7,304.3 374.9,301.1 375.1,312.4 375.3,317.5 375.5,310.7 375.7,302.6 376,312 376.2,307 376.4,300.4 376.6,290.9 376.8,303.2 377,290.8 377.2,303.1 377.5,281.9 377.7,302.6 377.9,288.4 378.1,307.5 378.3,309.2 378.5,305.1 378.7,313.8 378.9,276.9 379.2,317.4 379.4,306.2 379.6,332.5 379.8,319.7 380,329.7 380.2,311.5 380.4,310.6 380.7,349 380.9,303.1 381.1,297.6 381.3,306.9 381.5,336.2 381.7,318.1 381.9,318.7 382.1,304.8 382.4,302.6 382.6,301.8 382.8,303.5 383,303.6 383.2,299.9 383.4,319.3 383.6,318 383.8,306.2 384.1,301.8 384.3,286 384.5,300 384.7,315.2 384.9,312 385.1,307.7 385.3,301.2 385.6,317.7 385.8,328.7 386,308.8 386.2,313.9 386.4,311 386.6,329.3 386.8,313.9 387,291.3 387.3,314.2 387.5,311.5 387.7,311.1 387.9,308.9 388.1,286.6 388.3,309.4 388.5,312.6 388.8,304.9 389,292.2 389.2,311.8 389.4,304.2 389.6,321.7 389.8,292.4 390,303.1 390.2,295.9 390.5,309.7 390.7,323.3 390.9,301.1 391.1,335.3 391.3,315.8 391.5,289 391.7,300.8 392,310.6 392.2,289.8 392.4,317.8 392.6,313.2 392.8,310.7 393,320 393.2,314.6 393.4,291.7 393.7,310 393.9,315.4 394.1,315.7 394.3,306 394.5,306.4 394.7,307.6 394.9,312.5 395.1,308.2 395.4,308 395.6,314.4 395.8,305.5 396,321.7 396.2,319.2 396.4,310.5 396.6,309.7 396.9,318.3 397.1,307.9 397.3,325.9 397.5,305.6 397.7,307.2 397.9,302 398.1,304.8 398.3,315.5 398.6,311.4 398.8,294.5 399,315.3 399.2,308.5 399.4,311.6 399.6,314.5 399.8,320.2 400.1,308.6 400.3,305.2 400.5,307.2 400.7,317.6 400.9,311 401.1,306.7 401.3,302.6 401.5,305 401.8,304.6 402,303.6 402.2,305.7 402.4,313.5 402.6,308.7 402.8,312.9 403,325.1 403.2,318 403.5,299.6 403.7,315 403.9,324.2 404.1,292.6 404.3,323.1 404.5,309.6 404.7,307.8 405,310.5 405.2,309.7 405.4,299.3 405.6,303.5 405.8,309.7 406,305.2 406.2,304.9 406.4,311.3 406.7,308.1 406.9,308.1 407.1,312.6 407.3,300.4 407.5,310.7 407.7,314.8 407.9,317.6 408.2,315.4 408.4,300.4 408.6,321.2 408.8,305.1 409,311.1 409.2,304.2 409.4,306.3 409.6,316.7 409.9,289.8 410.1,308.3 410.3,308.1 410.5,309.4 410.7,311.3 410.9,305.1 411.1,301.1 411.4,305.9 411.6,318 411.8,306.8 412,285.1 412.2,306.4 412.4,288.7 412.6,310.7 412.8,309.4 413.1,316.4 413.3,334.4 413.5,317.8 413.7,295.4 413.9,305.2 414.1,313 414.3,293.1 414.5,317.7 414.8,297.3 415,301.2 415.2,304.1 415.4,311.2 415.6,310.2 415.8,313.6 416,298.8 416.3,325.2 416.5,315.5 416.7,308.5 416.9,315.9 417.1,333.4 417.3,310.8 417.5,319.1 417.7,305 418,296.7 418.2,308.8 418.4,331.8 418.6,310.7 418.8,322.7 419,304.8 419.2,305.5 419.5,304.8 419.7,302 419.9,296.6 420.1,304.2 420.3,316.7 420.5,305.7 420.7,330 420.9,303.3 421.2,290.9 421.4,300.9 421.6,306.2 421.8,321.6 422,303.5 422.2,293.2 422.4,320.3 422.7,317.5 422.9,316.9 423.1,306.7 423.3,313.4 423.5,314.3 423.7,316.9 423.9,295.7 424.1,311.3 424.4,315.6 424.6,289 424.8,308.2 425,296 425.2,299.6 425.4,305.4 425.6,308.1 425.8,308.2 426.1,311.2 426.3,314.9 426.5,301 426.7,311.7 426.9,300.6 427.1,310.1 427.3,309.2 427.6,309.5 427.8,319.2 428,321.2 428.2,306 428.4,302.7 428.6,301.7 428.8,301 429,306.4 429.3,308.6 429.5,319.3 429.7,313.7 429.9,299.1 430.1,307.8 430.3,296.6 430.5,309.9 430.8,312.5 431,298.8 431.2,303.4 431.4,305.1 431.6,301.3 431.8,311.3 432,320.2 432.2,308.1 432.5,316.4 432.7,324.1 432.9,301.8 433.1,305.3 433.3,302.9 433.5,308.5 433.7,309 434,304 434.2,307.4 434.4,308.7 434.6,305.1 434.8,292.6 435,305.6 435.2,313.2 435.4,306.1 435.7,302.1 435.9,311.8 436.1,304.6 436.3,304.5 436.5,311.5 436.7,312.4 436.9,308.8 437.1,321.2 437.4,310.8 437.6,308 437.8,311 438,315.7 438.2,310.7 438.4,300.6 438.6,304.5 438.9,310.1 439.1,312.8 439.3,309.3 439.5,309.1 439.7,315.1 439.9,312 440.1,306.4 440.3,305 440.6,323.7 440.8,300.2 441,308.7 441.2,305 441.4,309.3 441.6,305.7 441.8,302.4 442.1,323.5 442.3,300.7 442.5,307.5 442.7,322.6 442.9,319.8 443.1,306.5 443.3,316.8 443.5,304.3 443.8,308 444,318.4 444.2,305 444.4,307.6 444.6,304.9 444.8,304.7 445,307.6 445.3,305.6 445.5,303 445.7,313.7 445.9,310.1 446.1,309.6 446.3,295 446.5,314 446.7,310.8 447,308.2 447.2,308.2 447.4,304.9 447.6,310.9 447.8,311.5 448,310.8 448.2,310.2 448.4,311 448.7,297.8 448.9,306.7 449.1,301 449.3,304.4 449.5,312.8 449.7,310.6 449.9,299.9 450.2,310 450.4,307.6 450.6,309.8 450.8,294.1 451,317.5 451.2,302.7 451.4,307 451.6,305.3 451.9,316.6 452.1,310.6 452.3,313.4 452.5,310.3 452.7,317.2 452.9,299.2 453.1,316.3 453.4,307.3 453.6,313.2 453.8,306.7 454,302.5 454.2,314 454.4,306.6 454.6,309.6 454.8,308.4 455.1,308 455.3,312.5 455.5,296.9 455.7,312.3 455.9,311.6 456.1,312.9 456.3,304.5 456.6,313.7 456.8,306.2 457,307.6 457.2,316.5 457.4,303.2 457.6,315.9 457.8,305 458,303.5 458.3,315.7 458.5,313.9 458.7,318.6 458.9,322.2 459.1,311.2 459.3,316 459.5,303 459.7,311 460,309.4 460.2,314 460.4,296.5 460.6,312.6 460.8,317.8 461,322.3 461.2,317.9 461.5,313.4 461.7,306.8 461.9,304.3 462.1,304.4 462.3,312.1 462.5,322.1 462.7,305.9 462.9,304.3 463.2,303 463.4,309.5 463.6,310.2 463.8,306.8 464,320.8 464.2,319.7 464.4,298.6 464.7,293.5 464.9,282.9 465.1,302.2 465.3,307.3 465.5,305.7 465.7,321.5 465.9,310 466.1,310.9 466.4,325 466.6,305.7 466.8,309 467,297.4 467.2,303 467.4,312.2 467.6,312.7 467.9,309.5 468.1,312.5 468.3,296.2 468.5,287.5 468.7,267.9 468.9,313.6 469.1,325 469.3,310.9 469.6,287.4 469.8,297.5 470,309.6 470.2,306.9 470.4,328 470.6,297.1 470.8,311.6 471,298.8 471.3,310.2 471.5,312 471.7,305.8 471.9,312.8 472.1,299.2 472.3,306.9 472.5,325.9 472.8,307.1 473,311.1 473.2,306 473.4,306.7 473.6,297.5 473.8,308.6 474,306.9 474.2,311.4 474.5,311 474.7,310.6 474.9,302.1 475.1,307.5 475.3,303.3 475.5,311.3 475.7,312.2 476,293.2 476.2,301 476.4,299.8 476.6,310 476.8,302.7 477,302 477.2,314.9 477.4,302.7 477.7,288.1 477.9,311.7 478.1,294.3 478.3,290.3 478.5,319.4 478.7,295.1 478.9,321 479.1,309.6 479.4,312.4 479.6,309.7 479.8,318.8 480,330.6 480.2,300 480.4,316.3 480.6,316.7 480.9,331.4 481.1,305.6 481.3,295.6 481.5,295.2 481.7,301.6 481.9,295.3 482.1,336.2 482.3,306.4 482.6,295.3 482.8,308.5 483,306.7 483.2,326.9 483.4,306.2 483.6,293.6 483.8,309 484.1,291.3 484.3,329.6 484.5,292.9 484.7,303.4 484.9,298.5 485.1,305.8 485.3,317.7 485.5,321.5 485.8,306.8 486,308.9 486.2,317.4 486.4,309.2 486.6,311.6 486.8,303.7 487,310.8 487.3,317.9 487.5,309.6 487.7,311.3 487.9,298 488.1,310.9 488.3,313.7 488.5,309.6 488.7,310.2 489,308.3 489.2,291.8 489.4,295 489.6,318.4 489.8,309.8 490,318.4 490.2,311.6 490.4,308.2 490.7,314.7 490.9,316.4 491.1,311.1 491.3,309.8 491.5,307.8 491.7,314.1 491.9,308.4 492.2,307.2 492.4,304.3 492.6,313.1 492.8,316.6 493,320.6 493.2,305.9 493.4,298.6 493.6,312.6 493.9,307.4 494.1,302.5 494.3,304.9 494.5,311.5 494.7,305.4 494.9,310.1 495.1,318.1 495.4,298.2 495.6,306.2 495.8,313.5 496,307.4 496.2,302.1 496.4,320.3 496.6,305.1 496.8,306.8 497.1,309.1 497.3,308.6 497.5,310.5 497.7,306 497.9,314.5 498.1,309.6 498.3,296 498.6,308.2 498.8,307.9 499,318.2 499.2,314.5 499.4,307.8 499.6,312.9 499.8,318.7 500,322.4 500.3,307.4 500.5,296.3 500.7,311.8 500.9,305.4 501.1,282.9 501.3,310 501.5,308.4 501.7,308.5 502,319 502.2,296 502.4,295.1 502.6,303.1 502.8,291.5 503,313.9 503.2,310.7 503.5,300.2 503.7,319.8 503.9,315.2 504.1,307.3 504.3,317.8 504.5,320.3 504.7,302.8 504.9,307.3 505.2,306.1 505.4,312.6 505.6,312.7 505.8,306"/>
<polyline fill="none" stroke="#f00" stroke-width="1.15" stroke-dasharray="2.4 1.4" points="365.3,282.2 365.3,282.4 366.1,282.2 366.7,281.8 366.8,281.7 367.6,279.9 367.6,280.2 368.3,283.6 368.3,283.3 369.1,284.7 369.8,285.8 369.8,285.6 370.6,284.3 371.2,282.7 371.3,281.7 372.1,270.9 372.1,269.7 372.6,277.2 372.8,278.3 373.6,281.7 373.7,282.2 374.2,285.6 374.3,286.2 375.1,285.8 375.1,287.3 375.8,285 376,285.1 376.6,278 376.9,274 377.3,270.7 377.6,268.4 378.1,255.2 378.5,242.3 378.8,250.8 378.9,251.9 379.6,258.1 379.7,258.3 380.3,256.3 380.6,254.6 381,260.5 381.1,259.4 381.8,264 381.9,264.8 382.5,269.1 382.6,269.4 383.3,271.6 383.5,271.9 384.1,275.2 384.3,276 384.8,277.3 385.6,278.6 385.8,278.7 386.3,278.5 386.7,277.7 387.1,276.3 387.6,273.1 387.8,273.2 388.3,272.2 388.6,271.6 389.2,268.5 389.3,269.6 389.8,272.6 390.1,273.6 390.8,275.2 391.1,275.3 391.6,276.9 392,277.4 392.3,278 393.1,278.6 393.8,278.8 393.9,279.2 394.6,278.9 394.7,280.3 395.4,280.6 396.1,280.6 396.5,281.6 396.9,280.1 397.5,283.4 397.6,281.2 398.4,283.4 399.1,284.8 399.5,285.4 399.9,286.4 400.3,287.6 400.6,288 401.4,287 401.8,288.7 402.1,288.9 402.5,289.9 402.9,288.4 403.6,288.5 404.1,290.7 404.4,288.9 405.1,286.3 405.5,288 405.9,281.2 406.4,276 406.6,278.7 406.9,282.4 407.4,284.3 408,286.6 408.1,287.5 408.4,288.7 408.9,289.6 409.3,290.1 409.6,289.4 410,288.1 410.4,284.6 410.9,278.7 411.1,277 411.9,269.6 412.1,267.4 412.6,271.7 412.7,271.5 413.4,273.5 413.9,274.2 414.1,273.8 414.9,271.6 415,270.8 415.6,273.5 415.6,274 416.4,275.3 416.6,275.3 417.1,280.3 417.2,280.8 417.9,283.1 418.5,284.4 418.6,285.7 419,286.9 419.4,285.9 420,288.7 420.1,288.1 420.9,285.8 421,287.4 421.7,281.8 421.9,282.7 422.4,281.6 422.6,282.3 423.2,280.3 423.5,279.5 423.9,279.5 424.2,282.8 424.7,283 425.4,284.7 425.8,285.3 426.2,285.2 426.5,286.7 426.9,286.8 427.7,287.5 428,287.8 428.4,287.8 429.2,287.7 429.4,287.4 429.9,286.6 430.3,285.3 430.7,285.6 431.1,288.7 431.4,288.9 432.2,290.4 432.6,291 432.9,289.9 433.7,288.3 434.4,289.1 434.4,289.9 435.2,285.9 435.3,285.4 435.9,288.7 435.9,288.9 436.7,290.4 437.2,291.2 437.4,291.8 437.9,292.4 438.2,291.6 438.9,291.9 439.5,293.3 439.7,293.1 440.4,293.6 441.2,294 441.7,294.2 441.9,294.3 442.7,294.5 443.4,294.7 444,294.7 444.2,294.7 444.9,293.9 444.9,294 445.7,289.8 445.8,289.9 446.4,289.2 446.5,289.4 447.2,287.4 447.4,286.6 447.9,288.6 448.2,289.4 448.7,290.2 449.4,289.2 449.7,290.9 450.2,290.8 451,291.6 451.7,292.2 452,292.4 452.5,292.2 452.7,292 453.2,291.1 453.6,290.1 454,290.1 454.7,289.6 455.4,289 455.5,289.3 456,291 456.2,291.4 457,292.3 457.3,292.4 457.7,292.9 458.5,293.4 458.9,293.3 459.2,291.6 460,291.5 460.2,291.7 460.7,287.5 461.1,284.2 461.5,282.8 461.8,283.1 462.2,280.9 462.7,278.6 463,278.4 463.7,277.7 463.7,277.5 464.5,271.7 464.6,272.6 464.9,279.6 465.2,281.1 465.7,284.3 466,286.9 466.1,287.8 466.7,289.9 466.8,290 467.5,280.4 467.8,278.3 468.2,264.4 468.7,253.4 469,262.6 469,264.5 469.7,271.3 469.8,271.8 470.3,278 470.5,278.8 471.2,281.7 471.4,282.2 472,284.4 472,284.2 472.7,285.3 473.2,285.6 473.5,286.5 473.8,286.9 474.2,287.6 474.8,287.9 475,287.9 475.7,287.1 475.8,286.8 476.5,283.2 476.7,282.1 477.2,280.6 477.4,281.1 478,278.3 478.3,277.5 478.8,279.9 478.9,280.3 479.5,281.4 480.1,282.1 480.3,282.8 480.6,283.2 481,281.6 481.7,284.1 481.8,283.3 482.5,281 482.8,281.2 483.3,280.8 484,280.4 484,279 484.5,284 484.8,284.1 485.5,286.3 485.6,286.6 486.2,288.7 486.3,288.8 487,289.8 487.4,289.9 487.8,288.4 488.5,288.6 488.8,288.9 489.3,286.2 489.7,284.3 490,286.4 490.4,288.5 490.8,289.3 491.5,290.7 491.9,291.3 492.3,292 492.7,292.4 493,291.6 493.8,292.8 494.2,293.4 494.5,293.3 495.3,293.2 496,293.1 496.5,292.8 496.8,292.9 497.5,292.8 497.9,292.6 498.3,292.2 498.8,291.3 499,291.1 499.7,290 499.8,289.8 500.5,285.2 500.6,284.4 501.3,281.5 501.3,282.4 502,276.1 502.2,275.1 502.7,279.3 502.8,279.4 503.5,281.6 503.8,281.9 504.3,281.7 504.4,283.7 505,284 505.6,285.4 505.8,285.3"/>
<ellipse cx="409.8" cy="289.8" rx="3.1" ry="1.6" fill="#000"/>
<ellipse cx="421.2" cy="290.9" rx="3.1" ry="1.6" fill="#000"/>
<ellipse cx="434.9" cy="292.6" rx="3.1" ry="1.6" fill="#000"/>
<ellipse cx="464.6" cy="293.5" rx="3.1" ry="1.6" fill="#000"/>
<ellipse cx="464.6" cy="282.9" rx="3.1" ry="1.6" fill="#000"/>
<ellipse cx="468.7" cy="267.9" rx="3.1" ry="1.6" fill="#000"/>
<ellipse cx="476" cy="293.2" rx="3.1" ry="1.6" fill="#000"/>
<ellipse cx="501.1" cy="282.9" rx="3.1" ry="1.6" fill="#000"/>
<path d="M360.2 241.2 V349.8" stroke="#000" stroke-width="2.3" fill="none"/>
<path d="M351.7 349 H361.2" stroke="#000" stroke-width="1.6" fill="none"/>
<text transform="translate(340.6 349) rotate(-90)" font-size="8.7" text-anchor="middle" textLength="13" lengthAdjust="spacingAndGlyphs" fill="#000" stroke="#000" stroke-width="0.35">-1.82</text>
<path d="M351.7 322.2 H361.2" stroke="#000" stroke-width="1.6" fill="none"/>
<text transform="translate(340.6 322.2) rotate(-90)" font-size="8.7" text-anchor="middle" textLength="10.1" lengthAdjust="spacingAndGlyphs" fill="#000" stroke="#000" stroke-width="0.35">-0.6</text>
<path d="M351.7 295.5 H361.2" stroke="#000" stroke-width="1.6" fill="none"/>
<text transform="translate(340.6 295.5) rotate(-90)" font-size="8.7" text-anchor="middle" textLength="10.4" lengthAdjust="spacingAndGlyphs" fill="#000" stroke="#000" stroke-width="0.35">0.63</text>
<path d="M351.7 268.8 H361.2" stroke="#000" stroke-width="1.6" fill="none"/>
<text transform="translate(340.6 268.8) rotate(-90)" font-size="8.7" text-anchor="middle" textLength="10.4" lengthAdjust="spacingAndGlyphs" fill="#000" stroke="#000" stroke-width="0.35">1.85</text>
<path d="M351.7 242 H361.2" stroke="#000" stroke-width="1.6" fill="none"/>
<text transform="translate(340.6 242) rotate(-90)" font-size="8.7" text-anchor="middle" textLength="10.4" lengthAdjust="spacingAndGlyphs" fill="#000" stroke="#000" stroke-width="0.35">3.08</text>
<text transform="translate(309.1 295.5) rotate(-90)" font-size="10.3" text-anchor="middle" textLength="21.5" lengthAdjust="spacingAndGlyphs" fill="#000" stroke="#000" stroke-width="0.2">α=0.99</text>
<path d="M365 358.2 V353.4 H505.6 V358.2" stroke="#000" stroke-width="1.5" fill="none"/>
<text x="365.3" y="368.6" font-size="8.9" text-anchor="middle" textLength="58.6" lengthAdjust="spacingAndGlyphs" fill="#000" stroke="#000" stroke-width="0.2">2011−06</text>
<text x="505.8" y="368.6" font-size="8.9" text-anchor="middle" textLength="58.6" lengthAdjust="spacingAndGlyphs" fill="#000" stroke="#000" stroke-width="0.2">2014−02</text>
<text x="435.9" y="229.8" font-size="9.9" text-anchor="middle" textLength="33.8" lengthAdjust="spacingAndGlyphs" fill="#000" stroke="#000" stroke-width="0.45">TRM</text>
</g>
<g>
<polyline fill="none" stroke="#4682b4" stroke-width="1.3" stroke-linejoin="round" points="641.9,283.9 642.1,302.7 642.3,288.2 642.5,292.5 642.8,286.2 643,291 643.2,284.8 643.4,292.8 643.6,294.9 643.8,290.5 644,291 644.2,294.3 644.5,293.8 644.7,289.7 644.9,304.5 645.1,295 645.3,294.2 645.5,299.5 645.7,285 646,294 646.2,287 646.4,290.9 646.6,282.6 646.8,285.7 647,291.4 647.2,285.5 647.4,297.8 647.7,285.2 647.9,301.5 648.1,290.4 648.3,281.6 648.5,290.3 648.7,294.8 648.9,296.7 649.1,294.9 649.4,286.5 649.6,286.7 649.8,294.1 650,298.5 650.2,289.2 650.4,299.2 650.6,279.6 650.9,296.2 651.1,287.6 651.3,291.8 651.5,290.4 651.7,291.3 651.9,295.5 652.1,289.4 652.3,283.1 652.6,293.2 652.8,287.2 653,293.7 653.2,283.7 653.4,286.2 653.6,286.3 653.8,290.1 654.1,286.1 654.3,294.8 654.5,294.9 654.7,295.8 654.9,286.8 655.1,296.1 655.3,296.1 655.5,287 655.8,283.3 656,288.6 656.2,302.7 656.4,298.1 656.6,298.6 656.8,299.3 657,305.5 657.3,279.4 657.5,294.6 657.7,295.8 657.9,313.5 658.1,292.4 658.3,291.9 658.5,296 658.7,293 659,289.2 659.2,302.9 659.4,300.4 659.6,283.2 659.8,287.4 660,295.5 660.2,297.2 660.4,293.7 660.7,297.6 660.9,294.5 661.1,287.6 661.3,292.1 661.5,285.9 661.7,293.8 661.9,291.2 662.2,287 662.4,297.6 662.6,294.1 662.8,293.5 663,291.7 663.2,286.6 663.4,289.3 663.6,298.1 663.9,293.9 664.1,297.1 664.3,296.4 664.5,288.6 664.7,297.8 664.9,291.3 665.1,295.5 665.4,288.4 665.6,290.9 665.8,292.2 666,293.3 666.2,285.2 666.4,296.3 666.6,296.1 666.8,297.6 667.1,286.2 667.3,294.1 667.5,296.1 667.7,301.5 667.9,287.6 668.1,293.3 668.3,289.9 668.6,290.8 668.8,293 669,295.2 669.2,294 669.4,294.1 669.6,299 669.8,284.2 670,282 670.3,292.5 670.5,293.5 670.7,294.8 670.9,289 671.1,293.4 671.3,290.9 671.5,296.4 671.7,291.1 672,286.4 672.2,293.9 672.4,288.5 672.6,292.8 672.8,287 673,287.7 673.2,292.7 673.5,294.8 673.7,291.6 673.9,292.7 674.1,294.5 674.3,290.4 674.5,290.5 674.7,295.7 674.9,293.3 675.2,288.3 675.4,289.8 675.6,292.7 675.8,283.6 676,294.1 676.2,297.9 676.4,297.1 676.7,296.9 676.9,292.2 677.1,289.9 677.3,297.6 677.5,288.1 677.7,295.7 677.9,292 678.1,291.3 678.4,291.5 678.6,292.9 678.8,292.1 679,295.3 679.2,291.9 679.4,289.3 679.6,289.1 679.8,284.5 680.1,288.5 680.3,301.5 680.5,288.8 680.7,291.4 680.9,296.7 681.1,298.4 681.3,284.7 681.6,288.6 681.8,285.2 682,293.8 682.2,290.1 682.4,284.1 682.6,288.7 682.8,296.1 683,294.4 683.3,289.3 683.5,296.8 683.7,281 683.9,298.6 684.1,296 684.3,286.8 684.5,292.4 684.8,294.4 685,295.4 685.2,293.2 685.4,293.3 685.6,294 685.8,293.4 686,294.2 686.2,285.4 686.5,296.3 686.7,292.6 686.9,294.8 687.1,290.9 687.3,293.4 687.5,292 687.7,291.2 688,292.3 688.2,290.1 688.4,295.1 688.6,289.4 688.8,293.4 689,291.7 689.2,288.6 689.4,289.5 689.7,287.7 689.9,296.7 690.1,295 690.3,288.3 690.5,295.1 690.7,293.4 690.9,290.8 691.1,289 691.4,295 691.6,290.2 691.8,289.6 692,292.5 692.2,293.2 692.4,292 692.6,296.3 692.9,292.4 693.1,295.4 693.3,291.2 693.5,291.2 693.7,294.7 693.9,290.5 694.1,291.5 694.3,293 694.6,289.1 694.8,293.7 695,293.5 695.2,292.7 695.4,293.1 695.6,288.6 695.8,297.2 696.1,293.7 696.3,286.1 696.5,294.2 696.7,292 696.9,293 697.1,289.8 697.3,292.1 697.5,297.6 697.8,295.6 698,291 698.2,289.5 698.4,292.8 698.6,296.2 698.8,291.4 699,296.6 699.3,292 699.5,293.2 699.7,292.4 699.9,295.7 700.1,294 700.3,289.6 700.5,294 700.7,296.2 701,293.2 701.2,292.9 701.4,293.4 701.6,294.7 701.8,291.3 702,293.4 702.2,295.7 702.4,292.6 702.7,293.2 702.9,292.8 703.1,295.9 703.3,294.7 703.5,292.1 703.7,291.1 703.9,292.4 704.2,292.7 704.4,291.4 704.6,290.3 704.8,287.5 705,291.6 705.2,294 705.4,291.6 705.6,297.2 705.9,292.9 706.1,293.9 706.3,293 706.5,284.5 706.7,292.9 706.9,296.3 707.1,293.8 707.4,295.4 707.6,293.1 707.8,291.7 708,296.9 708.2,290.7 708.4,288.6 708.6,294 708.8,299.5 709.1,300 709.3,295.2 709.5,289.8 709.7,301.2 709.9,284.1 710.1,299.1 710.3,288.5 710.6,287.6 710.8,297.4 711,279.2 711.2,306.7 711.4,287.7 711.6,291 711.8,287.7 712,305.9 712.3,291.4 712.5,295.5 712.7,282 712.9,297.2 713.1,293.5 713.3,290.2 713.5,292.3 713.7,296 714,291.1 714.2,293.6 714.4,297.1 714.6,298.1 714.8,311.5 715,292.5 715.2,286.3 715.5,295.9 715.7,283.6 715.9,291.4 716.1,287.4 716.3,298.1 716.5,297.8 716.7,294.6 716.9,287.9 717.2,291.9 717.4,277 717.6,291.3 717.8,288 718,291.7 718.2,296.1 718.4,289.4 718.7,292.2 718.9,281.6 719.1,307.5 719.3,292.2 719.5,294.9 719.7,284.6 719.9,284.1 720.1,278.6 720.4,314.5 720.6,304 720.8,290.7 721,285.8 721.2,283.2 721.4,305.1 721.6,294 721.9,302.4 722.1,299.1 722.3,294.3 722.5,280 722.7,296 722.9,297.5 723.1,295.1 723.3,285.8 723.6,286.1 723.8,302 724,294.8 724.2,295.9 724.4,287.1 724.6,290.8 724.8,286.3 725,300.2 725.3,292.9 725.5,279.2 725.7,301.8 725.9,294.3 726.1,303.1 726.3,286.7 726.5,289.3 726.8,299.6 727,297.5 727.2,283 727.4,295.8 727.6,265.2 727.8,289.6 728,286.6 728.2,288.6 728.5,294.4 728.7,296.9 728.9,301.8 729.1,293.2 729.3,292.4 729.5,295.2 729.7,293.8 730,298.6 730.2,286.3 730.4,304.5 730.6,297.2 730.8,295.6 731,293.7 731.2,291.4 731.4,301.5 731.7,291.5 731.9,295.9 732.1,293.7 732.3,288.8 732.5,289.5 732.7,296.5 732.9,293.4 733.2,282.6 733.4,257.2 733.6,288.1 733.8,306.5 734,286 734.2,289.8 734.4,296.1 734.6,299.9 734.9,287.2 735.1,289.1 735.3,281 735.5,269.6 735.7,305.5 735.9,295.6 736.1,280.2 736.3,287.4 736.6,297.3 736.8,299.5 737,293.7 737.2,294.8 737.4,286.2 737.6,297.5 737.8,304.7 738.1,293.1 738.3,286.1 738.5,281.6 738.7,297.7 738.9,295.3 739.1,289.4 739.3,299 739.5,295.1 739.8,296.2 740,305.6 740.2,299.4 740.4,298.6 740.6,290.3 740.8,311 741,291.8 741.3,307.8 741.5,303.3 741.7,310.1 741.9,286.1 742.1,285.1 742.3,284.2 742.5,287.2 742.7,295.9 743,292.3 743.2,289.9 743.4,330.4 743.6,286.3 743.8,274.2 744,323.8 744.2,299.9 744.5,337.4 744.7,298.4 744.9,295.4 745.1,268 745.3,349 745.5,263.2 745.7,293.7 745.9,286.9 746.2,335.4 746.4,271.6 746.6,298.6 746.8,327.4 747,298.7 747.2,316.7 747.4,275.8 747.6,291.4 747.9,292.8 748.1,302.4 748.3,317.4 748.5,269 748.7,286.7 748.9,294.6 749.1,287.8 749.4,269.3 749.6,281.1 749.8,255.6 750,298.1 750.2,319.4 750.4,282.8 750.6,309.4 750.8,279 751.1,307.5 751.3,269.7 751.5,306.6 751.7,318.2 751.9,289.6 752.1,314.5 752.3,274.5 752.6,313.2 752.8,298.2 753,296.5 753.2,308.8 753.4,294.6 753.6,281 753.8,293.3 754,305.6 754.3,287.7 754.5,277.6 754.7,286.6 754.9,283.1 755.1,303.4 755.3,287.6 755.5,287.3 755.7,295 756,293.2 756.2,298.6 756.4,279.3 756.6,295 756.8,299.5 757,291.2 757.2,292 757.5,287.4 757.7,299.1 757.9,303.5 758.1,288.2 758.3,281 758.5,288.3 758.7,303.9 758.9,290.9 759.2,299.6 759.4,310.4 759.6,298.3 759.8,297.9 760,267 760.2,275.8 760.4,282.4 760.7,285 760.9,295.5 761.1,291.7 761.3,293.2 761.5,282.3 761.7,296.9 761.9,296 762.1,281 762.4,289.7 762.6,295.1 762.8,292.1 763,292 763.2,291.8 763.4,287 763.6,290.7 763.9,294 764.1,296.7 764.3,304.2 764.5,295.6 764.7,284.6 764.9,291.1 765.1,297.7 765.3,294.3 765.6,298.1 765.8,278.6 766,286.2 766.2,285.8 766.4,288.1 766.6,285.6 766.8,294.6 767,313.5 767.3,292.8 767.5,296 767.7,285.1 767.9,291.8 768.1,297.3 768.3,289.3 768.5,287 768.8,298.7 769,280.6 769.2,277 769.4,293.6 769.6,297.6 769.8,292.7 770,290.8 770.2,285.8 770.5,286.4 770.7,290.7 770.9,297.6 771.1,291.1 771.3,295.6 771.5,300.5 771.7,287.2 772,297.6 772.2,299.8 772.4,292.2 772.6,278.6 772.8,293.3 773,290.3 773.2,295.4 773.4,291.9 773.7,283.5 773.9,285.8 774.1,288.1 774.3,289.4 774.5,296.1 774.7,293.8 774.9,295.3 775.2,292.6 775.4,292.1 775.6,298.5 775.8,282.3 776,308.5 776.2,290.3 776.4,284.9 776.6,293.2 776.9,297.2 777.1,292.7 777.3,286.9 777.5,289.9 777.7,295.1 777.9,280.2 778.1,294 778.3,305.1 778.6,291.9 778.8,288.7 779,288.5 779.2,293.4 779.4,300.9 779.6,286.9 779.8,294.1 780.1,288.6 780.3,287.7 780.5,291.1 780.7,293.4 780.9,297.7 781.1,305.5 781.3,292.8 781.5,295.9 781.8,290 782,306.5 782.2,301.8 782.4,293.3"/>
<polyline fill="none" stroke="#f00" stroke-width="1.15" stroke-dasharray="2.4 1.4" points="641.9,275.8 642.6,276.3 642.7,276.2 643.4,276.4 644.2,276.6 644.9,276.8 645.7,276.9 646,276.9 646.4,276.9 647.2,276.9 647.9,276.8 648.7,276.1 649.4,276.4 649.6,276.5 650.2,275.8 650.5,275.2 650.9,276 651.3,276.6 651.7,276.9 652.4,277.4 652.8,277.4 653.2,277 653.9,277.3 654.7,277.5 655.1,277.4 655.4,276.6 656,276.5 656.2,275.1 656.9,272.4 656.9,272.8 657.7,268.2 658.1,267.1 658.4,270.8 658.5,271.3 659.2,273.9 659.2,274.1 659.7,276.1 659.9,276.4 660.7,277.4 660.8,277.5 661.4,277.8 662.2,278.1 662.9,277.8 663.7,278.3 664.2,278.6 664.4,278.6 665.2,278.1 665.9,278.4 666.5,278.5 666.7,278.1 667.4,277.8 668.2,278.1 668.4,278.3 668.9,277.2 669.3,276.8 669.7,276.7 670.5,276.6 671.1,276.4 671.2,276.6 672,277.3 672.2,277.5 672.7,277.7 673.5,278 674.2,278.2 674.5,278.2 675,278.4 675.7,278.5 676.5,278.6 677.2,278.7 677.9,278.7 678,278.8 678.7,278.6 679.5,278.5 680.2,277.8 681,277.9 681.4,277.9 681.7,277.3 682.5,277.5 683.2,277.5 683.6,277.5 684,278 684.6,278.9 684.7,279 685.5,278.9 686.2,279.5 686.6,279.8 687,280 687.7,280.3 688.5,280.7 689.2,281 689.3,281 690,281.6 690.7,281.9 690.9,282.2 691.5,282.4 692.2,282.7 693,283 693.7,282.8 693.9,283.1 694.5,283.3 695.2,283.2 696,283.3 696.7,283.9 697.3,284.3 697.5,284.3 698.3,284.2 699,284.5 699.8,284.7 700.5,284.8 700.8,284.8 701.3,284.8 702,284.6 702.8,284.5 703,284.4 703.5,284.4 704.3,284 705,284 705.8,284 706.5,283.7 706.7,283.9 707.3,282.7 707.6,282.1 708,282 708.8,281.9 709.5,281.4 710.1,281.6 710.3,281.2 711,279.8 711,279.8 711.8,279.7 712.5,279.6 713.3,279.5 713.6,279.4 714,278.5 714.5,277.4 714.8,276.8 715.5,277 716.3,277 717,276.8 717,276.1 717.8,273.5 717.9,273.9 718.5,273.5 719.3,273.6 719.3,273.5 720,272.1 720.2,271.8 720.8,273.5 721.1,274.3 721.5,274.7 722.3,275.4 723,276 723.1,275.9 723.8,276.8 724,276.9 724.5,277.2 725.3,277.4 725.9,277.5 726,277.6 726.8,276.7 727.6,276.3 727.7,276.9 728.3,275.5 728.6,275.2 729.1,275.4 729.8,276 730.4,276.2 730.6,275.6 731.3,275.1 731.8,274.7 732.1,272.6 732.7,267.2 732.8,267.2 733.6,266.6 733.6,266.4 734.3,262.9 734.5,262.4 735.1,265.1 735.1,266.5 735.8,267.8 736.4,269.5 736.6,270 737,271.6 737.3,271.9 738.1,272.7 738.4,273 738.8,274 739.2,274.8 739.6,275.2 740.3,275.8 740.7,275.9 741.1,275.9 741.8,275.6 742.3,275.3 742.6,274.4 743.2,272.2 743.3,270.6 744.1,258 744.1,257.9 744.8,255.6 744.8,255.2 745.6,246.1 745.7,244.3 746.3,242 746.9,243 747.1,243.9 747.3,245.9 747.8,246.9 748.2,247.8 748.6,249.3 748.8,249.9 749.3,250.9 749.8,251.3 750.1,253 750.6,255.4 750.8,256.1 751.6,256.3 752.1,258 752.3,258.7 752.9,260.6 753.1,259.5 753.8,260.1 754.4,262.2 754.6,261.9 755,265.1 755.4,265.3 756.1,266.9 756.2,267.2 756.7,268.6 756.9,268.7 757.6,269.4 757.8,269.5 758.4,269.5 758.7,269.2 759.1,268.8 759.6,267.7 759.9,267.8 760.6,267.6 761.2,267.1 761.4,267 762,270.2 762.1,270.2 762.9,271.4 763.5,272.3 763.6,272.6 764.3,274.1 764.4,274.2 765.1,274.8 765.8,275.3 765.9,275.3 766.6,274.9 767.4,274.4 767.6,274 768.1,272.9 768.9,272.9 769.2,272.9 769.6,273.4 770,273.9 770.4,274.1 771.1,273.6 771.5,274.4 771.9,274.3 772.6,274.8 773.4,274.4 773.8,275.1 774.1,275.4 774.5,276.1 774.9,276.3 775.6,276.7 776.1,276.8 776.4,277 777.1,277.3 777.9,277.5 778.4,277.5 778.6,277.8 779.4,278.3 780.1,278.7 780.2,278.7 780.9,278.3 781.6,278.5 781.8,278.6 782.4,278"/>
<ellipse cx="706.5" cy="284.5" rx="3.1" ry="1.6" fill="#000"/>
<ellipse cx="711" cy="279.2" rx="3.1" ry="1.6" fill="#000"/>
<ellipse cx="717.4" cy="277" rx="3.1" ry="1.6" fill="#000"/>
<ellipse cx="727.7" cy="265.2" rx="3.1" ry="1.6" fill="#000"/>
<ellipse cx="733.4" cy="257.2" rx="3.1" ry="1.6" fill="#000"/>
<ellipse cx="749.8" cy="255.6" rx="3.1" ry="1.6" fill="#000"/>
<ellipse cx="760.1" cy="267" rx="3.1" ry="1.6" fill="#000"/>
<path d="M636.6 241.2 V349.8" stroke="#000" stroke-width="2.3" fill="none"/>
<path d="M628.1 349 H637.6" stroke="#000" stroke-width="1.6" fill="none"/>
<text transform="translate(617 349) rotate(-90)" font-size="8.7" text-anchor="middle" textLength="13" lengthAdjust="spacingAndGlyphs" fill="#000" stroke="#000" stroke-width="0.35">-7.38</text>
<path d="M628.1 322.2 H637.6" stroke="#000" stroke-width="1.6" fill="none"/>
<text transform="translate(617 322.2) rotate(-90)" font-size="8.7" text-anchor="middle" textLength="13" lengthAdjust="spacingAndGlyphs" fill="#000" stroke="#000" stroke-width="0.35">-3.85</text>
<path d="M628.1 295.5 H637.6" stroke="#000" stroke-width="1.6" fill="none"/>
<text transform="translate(617 295.5) rotate(-90)" font-size="8.7" text-anchor="middle" textLength="13" lengthAdjust="spacingAndGlyphs" fill="#000" stroke="#000" stroke-width="0.35">-0.33</text>
<path d="M628.1 268.8 H637.6" stroke="#000" stroke-width="1.6" fill="none"/>
<text transform="translate(617 268.8) rotate(-90)" font-size="8.7" text-anchor="middle" textLength="10.4" lengthAdjust="spacingAndGlyphs" fill="#000" stroke="#000" stroke-width="0.35">3.19</text>
<path d="M628.1 242 H637.6" stroke="#000" stroke-width="1.6" fill="none"/>
<text transform="translate(617 242) rotate(-90)" font-size="8.7" text-anchor="middle" textLength="10.4" lengthAdjust="spacingAndGlyphs" fill="#000" stroke="#000" stroke-width="0.35">6.71</text>
<text transform="translate(585.5 295.5) rotate(-90)" font-size="10.3" text-anchor="middle" textLength="21.5" lengthAdjust="spacingAndGlyphs" fill="#000" stroke="#000" stroke-width="0.2">α=0.99</text>
<path d="M641.6 358.2 V353.4 H782.2 V358.2" stroke="#000" stroke-width="1.5" fill="none"/>
<text x="641.9" y="368.6" font-size="8.9" text-anchor="middle" textLength="58.6" lengthAdjust="spacingAndGlyphs" fill="#000" stroke="#000" stroke-width="0.2">2011−06</text>
<text x="782.4" y="368.6" font-size="8.9" text-anchor="middle" textLength="58.6" lengthAdjust="spacingAndGlyphs" fill="#000" stroke="#000" stroke-width="0.2">2014−02</text>
<text x="712.4" y="229.8" font-size="9.9" text-anchor="middle" textLength="30.6" lengthAdjust="spacingAndGlyphs" fill="#000" stroke="#000" stroke-width="0.45">TES</text>
</g>
<g>
<polyline fill="none" stroke="#4682b4" stroke-width="1.3" stroke-linejoin="round" points="89,467 89.2,461.5 89.4,462.5 89.6,472.2 89.9,470.3 90.1,471.5 90.3,447.8 90.5,467.6 90.7,438.2 90.9,485.1 91.1,455.1 91.3,468.4 91.6,461.9 91.8,468.8 92,503.2 92.2,462.9 92.4,460.2 92.6,468.9 92.8,468.4 93.1,461.6 93.3,473.9 93.5,479 93.7,462.9 93.9,473.9 94.1,488 94.3,473.5 94.5,431.8 94.8,479.9 95,422.5 95.2,498.3 95.4,456.9 95.6,469 95.8,473.6 96,461 96.2,456.8 96.5,470.2 96.7,462.2 96.9,432.6 97.1,469.5 97.3,474.1 97.5,461 97.7,462.9 98,453.6 98.2,478.4 98.4,486.2 98.6,477.4 98.8,489.2 99,465.3 99.2,447 99.4,475.7 99.7,450.1 99.9,453.7 100.1,453.6 100.3,457.6 100.5,452.5 100.7,483.4 100.9,455.1 101.2,431 101.4,483.2 101.6,460.7 101.8,469.5 102,454.8 102.2,448.9 102.4,467.3 102.6,462 102.9,476.1 103.1,451.2 103.3,468.7 103.5,432.6 103.7,488.4 103.9,450.4 104.1,457.7 104.4,469 104.6,459 104.8,452.3 105,455.5 105.2,482.4 105.4,456.2 105.6,460.2 105.8,468 106.1,449.3 106.3,455 106.5,477.7 106.7,462.3 106.9,456.5 107.1,484.1 107.3,470.2 107.5,480.4 107.8,465.1 108,444.4 108.2,455.1 108.4,486.7 108.6,471.7 108.8,456 109,446 109.3,459.8 109.5,476.2 109.7,462 109.9,467.3 110.1,469.5 110.3,439.8 110.5,461.4 110.7,499.7 111,468.2 111.2,469.4 111.4,480.1 111.6,470.7 111.8,453 112,468.6 112.2,442.1 112.5,454.7 112.7,462.1 112.9,458.9 113.1,466.3 113.3,470.8 113.5,478.8 113.7,454.1 113.9,453.8 114.2,475.1 114.4,473.5 114.6,457.6 114.8,476.5 115,470.2 115.2,494 115.4,463 115.7,457.8 115.9,466.8 116.1,450.6 116.3,471.6 116.5,462.8 116.7,489.5 116.9,489.1 117.1,452.1 117.4,475.8 117.6,461.1 117.8,461.6 118,454.2 118.2,460.1 118.4,453.7 118.6,468.2 118.8,474.1 119.1,474.1 119.3,473.3 119.5,479.1 119.7,474.4 119.9,468.3 120.1,463.8 120.3,470.4 120.6,486.4 120.8,468.1 121,464.8 121.2,459.4 121.4,460.8 121.6,475.7 121.8,474.3 122,457.7 122.3,454.1 122.5,491.2 122.7,461.2 122.9,476.3 123.1,462.9 123.3,460.1 123.5,456.8 123.8,442.1 124,463.8 124.2,464.7 124.4,479.8 124.6,469 124.8,475.7 125,465.6 125.2,470.9 125.5,457.6 125.7,456.5 125.9,463.3 126.1,460.9 126.3,465.8 126.5,471.3 126.7,468.5 126.9,486.2 127.2,463.2 127.4,467 127.6,461.3 127.8,476.5 128,459.4 128.2,474.6 128.4,474 128.7,468.9 128.9,472.2 129.1,464.2 129.3,472.2 129.5,476.4 129.7,472.3 129.9,458.4 130.1,466.7 130.4,478.1 130.6,467 130.8,479 131,457.9 131.2,479.1 131.4,460.8 131.6,460.1 131.9,477.9 132.1,464.2 132.3,484.1 132.5,460.4 132.7,463.5 132.9,456.7 133.1,465.4 133.3,463.4 133.6,468.5 133.8,442.8 134,474.7 134.2,453.2 134.4,472.8 134.6,476.3 134.8,459.3 135.1,453.1 135.3,451.9 135.5,471.6 135.7,480.6 135.9,472.8 136.1,449.3 136.3,465 136.5,486.5 136.8,432.6 137,474.7 137.2,472.3 137.4,477.4 137.6,479.7 137.8,474.6 138,458.3 138.2,449.3 138.5,467.3 138.7,455.6 138.9,468.6 139.1,435.2 139.3,465.8 139.5,438.2 139.7,470.2 140,465 140.2,489.1 140.4,472.2 140.6,476.8 140.8,469.1 141,468.6 141.2,470.7 141.4,456.6 141.7,449.3 141.9,470.3 142.1,457 142.3,457.1 142.5,456.2 142.7,450.3 142.9,471.4 143.2,459.3 143.4,453.3 143.6,459.7 143.8,473.2 144,462.3 144.2,454.5 144.4,464.4 144.6,472.3 144.9,456.3 145.1,475.7 145.3,463.4 145.5,467.3 145.7,496.2 145.9,457.6 146.1,464.3 146.4,478.5 146.6,462.2 146.8,470.2 147,487 147.2,474.2 147.4,497.6 147.6,459.2 147.8,465 148.1,466.7 148.3,461.2 148.5,469.4 148.7,451.6 148.9,464.9 149.1,463.2 149.3,461 149.5,477.6 149.8,472 150,453.2 150.2,463.8 150.4,469.3 150.6,463.6 150.8,470.7 151,464.3 151.3,474.1 151.5,465 151.7,482.6 151.9,456.1 152.1,470.9 152.3,478.2 152.5,468.7 152.7,486.9 153,465.7 153.2,476.6 153.4,460.4 153.6,443.7 153.8,482.5 154,462.5 154.2,470.9 154.5,464.1 154.7,489.5 154.9,481.7 155.1,457.9 155.3,467.4 155.5,461.1 155.7,473.5 155.9,463.7 156.2,453.1 156.4,473.7 156.6,474.6 156.8,467.5 157,467.6 157.2,483.4 157.4,465.8 157.7,474.5 157.9,465.1 158.1,460.4 158.3,451 158.5,481.8 158.7,468.2 158.9,472.5 159.1,462.2 159.4,468.4 159.6,451.7 159.8,448.6 160,457.2 160.2,465.1 160.4,467.3 160.6,464.1 160.8,458.8 161.1,463.3 161.3,468.7 161.5,457.7 161.7,475.6 161.9,467.5 162.1,472.3 162.3,470.8 162.6,471.2 162.8,478.7 163,458.3 163.2,460.5 163.4,468.1 163.6,459.2 163.8,462.6 164,464.5 164.3,476.9 164.5,468 164.7,463.1 164.9,455.4 165.1,457.6 165.3,459 165.5,470.9 165.8,474 166,463 166.2,467 166.4,462.8 166.6,467.6 166.8,465.9 167,472.8 167.2,464.9 167.5,468.4 167.7,465.6 167.9,477 168.1,467.5 168.3,465.7 168.5,467.2 168.7,463 169,463.3 169.2,469.6 169.4,469.1 169.6,458.5 169.8,467.6 170,459.6 170.2,464.3 170.4,469.8 170.7,469.7 170.9,466.2 171.1,465.1 171.3,463.1 171.5,471.6 171.7,469.1 171.9,467.5 172.1,455.3 172.4,479.2 172.6,463.6 172.8,447.9 173,464.4 173.2,469.1 173.4,463.6 173.6,455 173.9,463.1 174.1,461.2 174.3,463.1 174.5,470.6 174.7,459.1 174.9,468 175.1,470.6 175.3,467.3 175.6,468.1 175.8,459.5 176,467.4 176.2,470.1 176.4,461.1 176.6,453.9 176.8,472.8 177.1,461.6 177.3,467.7 177.5,446.3 177.7,468.2 177.9,459.6 178.1,466.2 178.3,474.9 178.5,467.3 178.8,472.6 179,465.4 179.2,473.5 179.4,473.6 179.6,465.8 179.8,444 180,473.6 180.3,458 180.5,447.5 180.7,474.3 180.9,453.2 181.1,470.3 181.3,468.8 181.5,419.3 181.7,474.2 182,479.2 182.2,462.4 182.4,470.6 182.6,468.5 182.8,472.3 183,468.9 183.2,457.9 183.4,475 183.7,468.6 183.9,466.2 184.1,460.1 184.3,459.8 184.5,468.9 184.7,470.3 184.9,464.5 185.2,468.3 185.4,468.1 185.6,458.7 185.8,454.6 186,465.7 186.2,467.9 186.4,462.3 186.6,475.3 186.9,467.2 187.1,472.2 187.3,457 187.5,478.4 187.7,466.2 187.9,467.9 188.1,477.1 188.4,461.6 188.6,454.5 188.8,471.1 189,452 189.2,458.4 189.4,475.7 189.6,457.2 189.8,453.5 190.1,465.1 190.3,467.5 190.5,457.1 190.7,478.7 190.9,466 191.1,452.8 191.3,477.7 191.6,453.1 191.8,440.8 192,486.3 192.2,468.2 192.4,477.5 192.6,463.6 192.8,476.7 193,451 193.3,490.9 193.5,463.2 193.7,472 193.9,470.8 194.1,456.2 194.3,464.5 194.5,470.1 194.7,480.6 195,452.6 195.2,459.5 195.4,469.2 195.6,465.3 195.8,475.6 196,475.3 196.2,489.1 196.5,465 196.7,465 196.9,473.1 197.1,463 197.3,460.4 197.5,465.6 197.7,460.6 197.9,469.6 198.2,467.9 198.4,485.5 198.6,467.3 198.8,461.8 199,480.8 199.2,463 199.4,474 199.7,468.5 199.9,478.3 200.1,460 200.3,457.4 200.5,457.4 200.7,460.5 200.9,476.1 201.1,471.2 201.4,470.3 201.6,473.9 201.8,459.1 202,465.5 202.2,467.2 202.4,464.7 202.6,470.9 202.8,469.6 203.1,470.2 203.3,464.5 203.5,465.8 203.7,477 203.9,462.9 204.1,472.4 204.3,468.7 204.6,466.3 204.8,472.7 205,469.3 205.2,462.4 205.4,458.9 205.6,461.3 205.8,466.8 206,467.9 206.3,459.4 206.5,468.9 206.7,464.5 206.9,462.4 207.1,468.6 207.3,470.7 207.5,467.2 207.8,459.2 208,462.1 208.2,465.6 208.4,459.5 208.6,476.6 208.8,470.7 209,472.8 209.2,471 209.5,474.7 209.7,473.9 209.9,471.9 210.1,467.8 210.3,472.4 210.5,464.7 210.7,462 211,467.9 211.2,456.7 211.4,463.9 211.6,472.9 211.8,468.2 212,471.2 212.2,458.2 212.4,472.1 212.7,454.3 212.9,457.9 213.1,427.2 213.3,455 213.5,440.6 213.7,473.6 213.9,437.8 214.1,492.6 214.4,463.4 214.6,481 214.8,459.1 215,478.8 215.2,483.3 215.4,463.1 215.6,457.8 215.9,472.2 216.1,457.3 216.3,465.9 216.5,469.5 216.7,461.3 216.9,461 217.1,477.5 217.3,461.1 217.6,461.5 217.8,479.6 218,456.2 218.2,460.6 218.4,472.2 218.6,461.9 218.8,466.7 219.1,446.4 219.3,458.1 219.5,465.7 219.7,479.9 219.9,455.2 220.1,454.5 220.3,459.3 220.5,476.9 220.8,475 221,460.4 221.2,472.7 221.4,466.4 221.6,473.6 221.8,468.3 222,475.7 222.3,450.9 222.5,474.7 222.7,467.8 222.9,468.3 223.1,463.3 223.3,476.1 223.5,467.4 223.7,468.6 224,462.5 224.2,460.4 224.4,470.3 224.6,463.7 224.8,469.8 225,478.4 225.2,468.2 225.4,472.2 225.7,467.3 225.9,458.9 226.1,428.8 226.3,471 226.5,462.2 226.7,459 226.9,486.4 227.2,487.9 227.4,477.6 227.6,468.1 227.8,451 228,461.1 228.2,496.2 228.4,469.6 228.6,487.9 228.9,486.3 229.1,459.4 229.3,447.9 229.5,477.3"/>
<polyline fill="none" stroke="#f00" stroke-width="1.15" stroke-dasharray="2.4 1.4" points="89,443.5 89.1,443.3 89.8,443.1 90.5,442.5 91.3,438.7 91.7,440.8 92,436.4 92.6,432.3 92.8,431.2 93.5,429.2 94.3,426.9 94.4,426 95,398.9 95.3,397 95.8,408 95.8,411.9 96.5,418.5 96.9,422.9 97.3,424.7 97.3,425.2 98,426.5 98.3,426.7 98.8,426.8 99.5,426.5 99.6,426.1 100.3,424.5 100.5,423.2 101,422.4 101.2,421.3 101.8,416.7 102.1,412.6 102.5,419.8 102.7,421.8 103.3,425.7 103.7,427.9 104,430.6 104.2,431.5 104.8,433.4 105.1,433.8 105.5,434 106.3,433.5 106.9,432.8 107,432.7 107.8,428.7 107.8,427.9 108.5,428.1 109.3,424.1 109.9,426 110,422.8 110.8,421.5 110.8,422.6 111.5,422.1 111.7,426.8 112.3,423.8 113,428.2 113.6,431 113.8,431.4 114.5,434.8 114.5,434.8 115.3,436 116,437 116.5,437.3 116.8,438.7 117.6,441.5 117.6,441.6 118.3,442.7 119.1,440.6 119.8,443.1 119.9,444.1 120.6,443.3 121.3,442.9 121.6,442.5 122.1,436 122.5,434.4 122.8,433.5 123.6,433.4 123.6,433.5 124.3,425.3 124.5,426.8 125.1,427.4 125.3,431.7 125.8,428.7 126.6,433 127,435.7 127.3,436.3 128.1,437.4 128.1,439.1 128.8,439.6 129.6,441.1 130.2,442 130.3,442 131.1,441.9 131.8,441.7 132.6,441.4 133.3,441.1 133.4,440.8 134.1,436.9 134.3,435 134.8,434.4 135.6,432.9 136.2,431.4 136.3,428.7 137.1,414.9 137.1,415.8 137.5,419.3 137.8,417.5 138.4,422.6 138.6,421.5 138.9,422 139.3,420 139.8,418.3 140.1,422.3 140.4,426.2 140.8,428.4 141.6,431.6 141.6,431.4 142.3,435.8 142.4,435.7 143.1,437.4 143.8,436.1 143.9,437.9 144.6,437 145.4,437.1 146.1,436.9 146.4,436.6 146.9,432.8 147.3,427.9 147.6,430.5 147.9,432.9 148.4,434.3 149.1,436.4 149.2,436.2 149.7,439 149.9,439.6 150.6,440.9 150.8,440.9 151.4,440.5 152.1,439.7 152.6,438.8 152.9,436.3 153.5,429.1 153.6,430.5 154.1,434.1 154.4,435.2 155.1,436.3 155.3,437.2 155.9,439.2 155.9,439.4 156.6,440.4 157.1,440.9 157.4,440.9 158.1,437.1 158.9,438.2 159,439 159.6,434 159.9,432.4 160.4,435.8 160.6,437.5 161.1,438.8 161.9,440.5 162.2,440.9 162.6,442 163.3,443 163.4,443.3 164.1,443.8 164.9,444.3 165.6,444.4 165.6,444.7 166.4,445 167.1,445.2 167.9,445.5 168.6,445.8 169,445.6 169.4,445.9 170.1,445.9 170.9,445.9 171.3,445.6 171.6,445.6 172.4,445.1 173.1,443 173.8,443.7 173.9,442.7 174.7,436.6 174.7,436.1 175.4,439.4 175.4,439.5 176.2,440.8 176.8,441.6 176.9,442.1 177.4,442.6 177.7,443 178.4,443.4 178.6,443.3 179.2,442.7 179.5,441.8 179.9,439.2 180.4,435 180.7,433.7 181.1,430.1 181.4,423.5 182,407.8 182.2,412.8 182.6,423.8 182.9,426 183.6,434.2 183.7,432.4 184.4,438.7 184.5,439.6 185.2,441 185.9,440.2 186.1,442.7 186.7,441.9 187.4,442.3 188.2,442.3 188.2,442.3 188.9,439.4 189.1,438.5 189.7,438.2 190.4,437.6 190.9,436.8 191.2,435.1 191.8,429.1 191.9,430 192.6,433.3 192.7,433.9 193.4,435.3 194.1,436.2 194.2,436.8 194.9,439 194.9,439.4 195.7,440.3 196.4,440.3 196.4,438.5 197.2,441.2 197.5,442.2 197.9,439.8 198.7,439.2 199.4,441.9 199.8,443.6 200.2,443.5 200.9,444.7 201,444.8 201.7,443.4 202.5,444.6 203.2,445.4 203.3,445.5 204,446.5 204.4,447 204.7,447.3 205.5,447.7 206.2,448 206.7,448 207,448.3 207.7,448.6 208.5,448.8 209.2,447.6 210,446.6 210.1,448.6 210.7,447.7 211,448.5 211.5,447.3 211.9,446.7 212.2,444.4 212.6,441.4 213,432.2 213.5,417.2 213.7,422.4 214.1,430 214.5,433.7 215.1,438.5 215.2,439.3 215.7,441.4 216,442 216.7,440.7 216.9,442.5 217.5,439.3 218.2,440.7 218.8,441.7 219,440 219.7,436 219.7,436.3 220.1,439.6 220.5,440.7 221.1,442 221.2,443 221.6,443.9 222,442.5 222.7,445.3 222.7,444.6 223.5,444.7 223.6,444.8 224.2,440.5 224.5,441.4 225,437.7 225.4,438.2 225.7,431.5 226.3,422.8 226.5,425.9 226.8,432.2 227.2,434.7 227.9,438.5 228,439.3 228.4,442.1 228.7,443 229.5,443.4 229.5,444.1"/>
<ellipse cx="94.5" cy="431.8" rx="3.1" ry="1.6" fill="#000"/>
<ellipse cx="101.2" cy="431" rx="3.1" ry="1.6" fill="#000"/>
<ellipse cx="136.7" cy="432.6" rx="3.1" ry="1.6" fill="#000"/>
<ellipse cx="139" cy="435.2" rx="3.1" ry="1.6" fill="#000"/>
<ellipse cx="179.9" cy="444" rx="3.1" ry="1.6" fill="#000"/>
<ellipse cx="181.6" cy="419.3" rx="3.1" ry="1.6" fill="#000"/>
<ellipse cx="191.8" cy="440.8" rx="3.1" ry="1.6" fill="#000"/>
<ellipse cx="213.1" cy="427.2" rx="3.1" ry="1.6" fill="#000"/>
<ellipse cx="226" cy="428.8" rx="3.1" ry="1.6" fill="#000"/>
<path d="M83.8 396.2 V504.8" stroke="#000" stroke-width="2.3" fill="none"/>
<path d="M75.3 504 H84.8" stroke="#000" stroke-width="1.6" fill="none"/>
<text transform="translate(64.2 504) rotate(-90)" font-size="8.7" text-anchor="middle" textLength="13" lengthAdjust="spacingAndGlyphs" fill="#000" stroke="#000" stroke-width="0.35">-3.45</text>
<path d="M75.3 477.2 H84.8" stroke="#000" stroke-width="1.6" fill="none"/>
<text transform="translate(64.2 477.2) rotate(-90)" font-size="8.7" text-anchor="middle" textLength="13" lengthAdjust="spacingAndGlyphs" fill="#000" stroke="#000" stroke-width="0.35">-0.95</text>
<path d="M75.3 450.5 H84.8" stroke="#000" stroke-width="1.6" fill="none"/>
<text transform="translate(64.2 450.5) rotate(-90)" font-size="8.7" text-anchor="middle" textLength="10.4" lengthAdjust="spacingAndGlyphs" fill="#000" stroke="#000" stroke-width="0.35">1.55</text>
<path d="M75.3 423.8 H84.8" stroke="#000" stroke-width="1.6" fill="none"/>
<text transform="translate(64.2 423.8) rotate(-90)" font-size="8.7" text-anchor="middle" textLength="10.4" lengthAdjust="spacingAndGlyphs" fill="#000" stroke="#000" stroke-width="0.35">4.05</text>
<path d="M75.3 397 H84.8" stroke="#000" stroke-width="1.6" fill="none"/>
<text transform="translate(64.2 397) rotate(-90)" font-size="8.7" text-anchor="middle" textLength="10.4" lengthAdjust="spacingAndGlyphs" fill="#000" stroke="#000" stroke-width="0.35">6.56</text>
<text transform="translate(32.7 450.5) rotate(-90)" font-size="10.3" text-anchor="middle" textLength="24.5" lengthAdjust="spacingAndGlyphs" fill="#000" stroke="#000" stroke-width="0.2">α=0.995</text>
<path d="M88.7 513.2 V508.4 H229.3 V513.2" stroke="#000" stroke-width="1.5" fill="none"/>
<text x="89" y="523.6" font-size="8.9" text-anchor="middle" textLength="58.6" lengthAdjust="spacingAndGlyphs" fill="#000" stroke="#000" stroke-width="0.2">2011−06</text>
<text x="229.5" y="523.6" font-size="8.9" text-anchor="middle" textLength="58.6" lengthAdjust="spacingAndGlyphs" fill="#000" stroke="#000" stroke-width="0.2">2014−02</text>
<text x="159.6" y="384.8" font-size="9.9" text-anchor="middle" textLength="39.3" lengthAdjust="spacingAndGlyphs" fill="#000" stroke="#000" stroke-width="0.45">IGBC</text>
</g>
<g>
<polyline fill="none" stroke="#4682b4" stroke-width="1.3" stroke-linejoin="round" points="365.3,466.7 365.5,462.1 365.7,463 365.9,464.6 366.2,455.8 366.4,474 366.6,469 366.8,471.6 367,467.5 367.2,454.1 367.4,466.8 367.6,461.8 367.9,477.8 368.1,465.9 368.3,470.2 368.5,457.5 368.7,476.2 368.9,456.7 369.1,466.9 369.4,460.1 369.6,462.7 369.8,467.9 370,468.4 370.2,467.1 370.4,468.8 370.6,470.5 370.8,467.7 371.1,471.6 371.3,457.6 371.5,473.7 371.7,460.7 371.9,471.9 372.1,475.3 372.3,472.5 372.5,467.3 372.8,468.8 373,465.2 373.2,471.2 373.4,465.3 373.6,451.4 373.8,463.4 374,471.6 374.3,452.5 374.5,467.8 374.7,462.1 374.9,459 375.1,469.7 375.3,474.4 375.5,468.1 375.7,460.5 376,469.2 376.2,464.5 376.4,458.4 376.6,449.5 376.8,461 377,449.4 377.2,460.9 377.5,441 377.7,460.5 377.9,447.1 378.1,465 378.3,466.7 378.5,462.8 378.7,471 378.9,436.3 379.2,474.3 379.4,463.8 379.6,488.5 379.8,476.5 380,485.9 380.2,468.8 380.4,468 380.7,504 380.9,461 381.1,455.8 381.3,464.4 381.5,492 381.7,475 381.9,475.5 382.1,462.5 382.4,460.4 382.6,459.7 382.8,461.3 383,461.4 383.2,457.9 383.4,476.1 383.6,474.9 383.8,463.8 384.1,459.7 384.3,444.9 384.5,458 384.7,472.3 384.9,469.2 385.1,465.2 385.3,459.1 385.6,474.6 385.8,485 386,466.2 386.2,471 386.4,468.3 386.6,485.5 386.8,471 387,449.8 387.3,471.3 387.5,468.8 387.7,468.4 387.9,466.4 388.1,445.4 388.3,466.8 388.5,469.8 388.8,462.6 389,450.6 389.2,469 389.4,462 389.6,478.4 389.8,450.9 390,460.9 390.2,454.2 390.5,467.1 390.7,479.9 390.9,459 391.1,491.1 391.3,472.8 391.5,447.7 391.7,458.7 392,468 392.2,448.4 392.4,474.7 392.6,470.4 392.8,468.1 393,476.8 393.2,471.8 393.4,450.2 393.7,467.4 393.9,472.5 394.1,472.8 394.3,463.6 394.5,464 394.7,465.1 394.9,469.8 395.1,465.7 395.4,465.5 395.6,471.5 395.8,463.2 396,478.4 396.2,476.1 396.4,467.9 396.6,467.1 396.9,475.1 397.1,465.4 397.3,482.3 397.5,463.2 397.7,464.7 397.9,459.9 398.1,462.5 398.3,472.6 398.6,468.7 398.8,452.9 399,472.4 399.2,465.9 399.4,468.9 399.6,471.6 399.8,477 400.1,466.1 400.3,462.9 400.5,464.8 400.7,474.5 400.9,468.3 401.1,464.2 401.3,460.4 401.5,462.7 401.8,462.3 402,461.4 402.2,463.4 402.4,470.7 402.6,466.2 402.8,470.1 403,481.6 403.2,474.9 403.5,457.6 403.7,472.1 403.9,480.7 404.1,451.1 404.3,479.7 404.5,467 404.7,465.3 405,467.9 405.2,467.1 405.4,457.4 405.6,461.2 405.8,467.1 406,462.9 406.2,462.6 406.4,468.6 406.7,465.6 406.9,465.6 407.1,469.8 407.3,458.3 407.5,468.1 407.7,471.9 407.9,474.5 408.2,472.4 408.4,458.4 408.6,477.9 408.8,462.8 409,468.4 409.2,461.9 409.4,463.9 409.6,473.7 409.9,448.4 410.1,465.8 410.3,465.6 410.5,466.9 410.7,468.6 410.9,462.8 411.1,459 411.4,463.5 411.6,474.9 411.8,464.4 412,444 412.2,464 412.4,447.4 412.6,468 412.8,466.8 413.1,473.4 413.3,490.2 413.5,474.7 413.7,453.7 413.9,462.9 414.1,470.2 414.3,451.5 414.5,474.6 414.8,455.5 415,459.1 415.2,461.9 415.4,468.5 415.6,467.6 415.8,470.8 416,456.8 416.3,481.6 416.5,472.5 416.7,466 416.9,472.9 417.1,489.4 417.3,468.1 417.5,476 417.7,462.7 418,454.9 418.2,466.3 418.4,487.9 418.6,468 418.8,479.3 419,462.5 419.2,463.2 419.5,462.5 419.7,459.8 419.9,454.8 420.1,461.9 420.3,473.7 420.5,463.4 420.7,486.1 420.9,461.1 421.2,449.5 421.4,458.9 421.6,463.8 421.8,478.3 422,461.3 422.2,451.6 422.4,477.1 422.7,474.5 422.9,473.9 423.1,464.3 423.3,470.5 423.5,471.4 423.7,473.8 423.9,453.9 424.1,468.6 424.4,472.7 424.6,447.7 424.8,465.7 425,454.2 425.2,457.7 425.4,463.1 425.6,465.6 425.8,465.7 426.1,468.5 426.3,472 426.5,458.9 426.7,469 426.9,458.6 427.1,467.5 427.3,466.7 427.6,466.9 427.8,476 428,477.9 428.2,463.7 428.4,460.6 428.6,459.6 428.8,458.9 429,464 429.3,466.1 429.5,476.1 429.7,470.8 429.9,457.2 430.1,465.4 430.3,454.8 430.5,467.3 430.8,469.7 431,456.8 431.2,461.2 431.4,462.8 431.6,459.2 431.8,468.6 432,477 432.2,465.6 432.5,473.4 432.7,480.6 432.9,459.7 433.1,463 433.3,460.7 433.5,465.9 433.7,466.4 434,461.8 434.2,465 434.4,466.1 434.6,462.8 434.8,451.1 435,463.3 435.2,470.4 435.4,463.8 435.7,460 435.9,469.1 436.1,462.3 436.3,462.2 436.5,468.8 436.7,469.6 436.9,466.3 437.1,477.9 437.4,468.2 437.6,465.5 437.8,468.3 438,472.8 438.2,468.1 438.4,458.5 438.6,462.2 438.9,467.5 439.1,470 439.3,466.7 439.5,466.5 439.7,472.2 439.9,469.2 440.1,464 440.3,462.7 440.6,480.3 440.8,458.1 441,466.2 441.2,462.7 441.4,466.8 441.6,463.3 441.8,460.3 442.1,480 442.3,458.7 442.5,465 442.7,479.2 442.9,476.5 443.1,464.1 443.3,473.8 443.5,462 443.8,465.5 444,475.3 444.2,462.7 444.4,465.1 444.6,462.6 444.8,462.5 445,465.1 445.3,463.3 445.5,460.8 445.7,470.8 445.9,467.5 446.1,467 446.3,453.3 446.5,471.1 446.7,468.2 447,465.7 447.2,465.7 447.4,462.6 447.6,468.2 447.8,468.8 448,468.2 448.2,467.5 448.4,468.4 448.7,456 448.9,464.3 449.1,459 449.3,462.1 449.5,470 449.7,467.9 449.9,457.9 450.2,467.3 450.4,465.1 450.6,467.2 450.8,452.5 451,474.4 451.2,460.5 451.4,464.6 451.6,463 451.9,473.5 452.1,467.9 452.3,470.6 452.5,467.7 452.7,474.1 452.9,457.3 453.1,473.3 453.4,464.9 453.6,470.4 453.8,464.3 454,460.4 454.2,471.2 454.4,464.2 454.6,467 454.8,465.9 455.1,465.5 455.3,469.7 455.5,455.1 455.7,469.5 455.9,468.9 456.1,470.2 456.3,462.2 456.6,470.9 456.8,463.8 457,465.1 457.2,473.5 457.4,461 457.6,472.9 457.8,462.7 458,461.3 458.3,472.8 458.5,471 458.7,475.5 458.9,478.8 459.1,468.5 459.3,473 459.5,460.8 459.7,468.3 460,466.9 460.2,471.1 460.4,454.7 460.6,469.8 460.8,474.7 461,478.9 461.2,474.8 461.5,470.6 461.7,464.4 461.9,462.1 462.1,462.1 462.3,469.4 462.5,478.7 462.7,463.5 462.9,462 463.2,460.8 463.4,466.9 463.6,467.5 463.8,464.4 464,477.5 464.2,476.5 464.4,456.7 464.7,451.9 464.9,441.9 465.1,460 465.3,464.9 465.5,463.3 465.7,478.2 465.9,467.4 466.1,468.3 466.4,481.5 466.6,463.3 466.8,466.5 467,455.6 467.2,460.8 467.4,469.4 467.6,469.9 467.9,466.9 468.1,469.7 468.3,454.4 468.5,446.3 468.7,427.8 468.9,470.7 469.1,481.5 469.3,468.2 469.6,446.2 469.8,455.7 470,467 470.2,464.5 470.4,484.2 470.6,455.3 470.8,468.9 471,456.9 471.3,467.6 471.5,469.2 471.7,463.4 471.9,470 472.1,457.2 472.3,464.5 472.5,482.3 472.8,464.7 473,468.4 473.2,463.6 473.4,464.3 473.6,455.7 473.8,466.1 474,464.5 474.2,468.7 474.5,468.3 474.7,468 474.9,459.9 475.1,465.1 475.3,461.1 475.5,468.6 475.7,469.4 476,451.6 476.2,458.9 476.4,457.8 476.6,467.4 476.8,460.6 477,459.9 477.2,472 477.4,460.5 477.7,446.8 477.9,469 478.1,452.6 478.3,448.9 478.5,476.2 478.7,453.4 478.9,477.7 479.1,467.1 479.4,469.7 479.6,467.1 479.8,475.6 480,486.7 480.2,458 480.4,473.3 480.6,473.7 480.9,487.4 481.1,463.3 481.3,453.9 481.5,453.5 481.7,459.5 481.9,453.6 482.1,492 482.3,464 482.6,453.6 482.8,466 483,464.3 483.2,483.2 483.4,463.9 483.6,452 483.8,466.5 484.1,449.8 484.3,485.8 484.5,451.3 484.7,461.2 484.9,456.6 485.1,463.4 485.3,474.6 485.5,478.2 485.8,464.4 486,466.3 486.2,474.4 486.4,466.7 486.6,468.9 486.8,461.4 487,468.1 487.3,474.8 487.5,467 487.7,468.6 487.9,456.1 488.1,468.2 488.3,470.9 488.5,467 488.7,467.5 489,465.8 489.2,450.3 489.4,453.3 489.6,475.3 489.8,467.2 490,475.2 490.2,468.9 490.4,465.7 490.7,471.8 490.9,473.4 491.1,468.4 491.3,467.2 491.5,465.3 491.7,471.2 491.9,465.9 492.2,464.8 492.4,462.1 492.6,470.3 492.8,473.6 493,477.4 493.2,463.5 493.4,456.7 493.6,469.8 493.9,464.9 494.1,460.3 494.3,462.6 494.5,468.8 494.7,463.1 494.9,467.5 495.1,475 495.4,456.3 495.6,463.8 495.8,470.7 496,465 496.2,460 496.4,477.1 496.6,462.8 496.8,464.4 497.1,466.6 497.3,466 497.5,467.9 497.7,463.7 497.9,471.6 498.1,467 498.3,454.2 498.6,465.7 498.8,465.4 499,475.1 499.2,471.6 499.4,465.3 499.6,470.1 499.8,475.5 500,479 500.3,464.9 500.5,454.5 500.7,469.1 500.9,463.1 501.1,441.9 501.3,467.4 501.5,465.8 501.7,466 502,475.9 502.2,454.2 502.4,453.4 502.6,460.9 502.8,450 503,471 503.2,468 503.5,458.2 503.7,476.6 503.9,472.3 504.1,464.8 504.3,474.7 504.5,477.1 504.7,460.6 504.9,464.9 505.2,463.8 505.4,469.8 505.6,469.9 505.8,463.7"/>
<polyline fill="none" stroke="#f00" stroke-width="1.15" stroke-dasharray="2.4 1.4" points="365.3,438.5 365.3,438.8 366.1,438.6 366.7,438.1 366.8,438.1 367.6,436.2 367.6,436.5 368.3,440 368.3,439.7 369.1,441.1 369.8,442.3 369.8,442.1 370.6,440.8 371.2,439.1 371.3,438 372.1,426.8 372.1,425.5 372.6,433.3 372.8,434.5 373.6,438.1 373.7,438.5 374.2,442.1 374.3,442.7 375.1,442.4 375.1,443.9 375.8,441.4 376,441.6 376.6,434.2 376.9,430.1 377.3,426.7 377.6,424.2 378.1,410.5 378.5,397.1 378.8,405.9 378.9,407 379.6,413.5 379.7,413.7 380.3,411.6 380.6,409.9 381,416 381.1,414.8 381.8,419.6 381.9,420.5 382.5,424.9 382.6,425.3 383.3,427.5 383.5,427.8 384.1,431.3 384.3,432.1 384.8,433.5 385.6,434.9 385.8,435 386.3,434.7 386.7,433.9 387.1,432.4 387.6,429.1 387.8,429.2 388.3,428.2 388.6,427.5 389.2,424.3 389.3,425.5 389.8,428.6 390.1,429.6 390.8,431.3 391.1,431.4 391.6,433 392,433.6 392.3,434.2 393.1,434.8 393.8,435 393.9,435.4 394.6,435.1 394.7,436.6 395.4,436.9 396.1,436.9 396.5,437.9 396.9,436.4 397.5,439.8 397.6,437.5 398.4,439.8 399.1,441.2 399.5,441.9 399.9,442.9 400.3,444.1 400.6,444.6 401.4,443.6 401.8,445.3 402.1,445.6 402.5,446.6 402.9,445 403.6,445.1 404.1,447.4 404.4,445.5 405.1,442.8 405.5,444.6 405.9,437.5 406.4,432.2 406.6,435 406.9,438.8 407.4,440.7 408,443.2 408.1,444.1 408.4,445.3 408.9,446.2 409.3,446.8 409.6,446 410,444.7 410.4,441 410.9,435 411.1,433.1 411.9,425.4 412.1,423.2 412.6,427.6 412.7,427.4 413.4,429.5 413.9,430.3 414.1,429.9 414.9,427.5 415,426.7 415.6,429.5 415.6,430.1 416.4,431.4 416.6,431.4 417.1,436.6 417.2,437.1 417.9,439.4 418.5,440.9 418.6,442.2 419,443.5 419.4,442.5 420,445.3 420.1,444.7 420.9,442.3 421,443.9 421.7,438.2 421.9,439 422.4,437.9 422.6,438.7 423.2,436.6 423.5,435.7 423.9,435.8 424.2,439.2 424.7,439.4 425.4,441.2 425.8,441.8 426.2,441.7 426.5,443.2 426.9,443.3 427.7,444.1 428,444.4 428.4,444.4 429.2,444.2 429.4,444 429.9,443.2 430.3,441.8 430.7,442.1 431.1,445.3 431.4,445.5 432.2,447.1 432.6,447.7 432.9,446.6 433.7,444.9 434.4,445.8 434.4,446.6 435.2,442.4 435.3,441.9 435.9,445.4 435.9,445.5 436.7,447.1 437.2,448 437.4,448.6 437.9,449.2 438.2,448.3 438.9,448.7 439.5,450.1 439.7,449.8 440.4,450.5 441.2,450.9 441.7,451 441.9,451.2 442.7,451.4 443.4,451.6 444,451.5 444.2,451.5 444.9,450.7 444.9,450.8 445.7,446.5 445.8,446.5 446.4,445.8 446.5,446 447.2,443.9 447.4,443.2 447.9,445.2 448.2,446.1 448.7,446.9 449.4,445.8 449.7,447.6 450.2,447.5 451,448.3 451.7,449 452,449.1 452.5,449 452.7,448.7 453.2,447.8 453.6,446.8 454,446.7 454.7,446.3 455.4,445.6 455.5,445.9 456,447.8 456.2,448.2 457,449 457.3,449.2 457.7,449.7 458.5,450.2 458.9,450.1 459.2,448.3 460,448.2 460.2,448.5 460.7,444.1 461.1,440.6 461.5,439.2 461.8,439.6 462.2,437.2 462.7,434.8 463,434.6 463.7,433.9 463.7,433.7 464.5,427.7 464.6,428.5 464.9,435.8 465.2,437.4 465.7,440.8 466,443.4 466.1,444.4 466.7,446.5 466.8,446.7 467.5,436.7 467.8,434.5 468.2,420.1 468.7,408.6 469,418.2 469,420.1 469.7,427.2 469.8,427.8 470.3,434.2 470.5,435.1 471.2,438.1 471.4,438.5 472,440.8 472,440.7 472.7,441.8 473.2,442.1 473.5,443 473.8,443.5 474.2,444.2 474.8,444.4 475,444.5 475.7,443.6 475.8,443.4 476.5,439.7 476.7,438.5 477.2,436.9 477.4,437.4 478,434.5 478.3,433.7 478.8,436.1 478.9,436.6 479.5,437.8 480.1,438.5 480.3,439.2 480.6,439.6 481,438 481.7,440.5 481.8,439.7 482.5,437.3 482.8,437.5 483.3,437.1 484,436.7 484,435.2 484.5,440.5 484.8,440.5 485.5,442.8 485.6,443.1 486.2,445.3 486.3,445.5 487,446.5 487.4,446.6 487.8,445 488.5,445.2 488.8,445.6 489.3,442.7 489.7,440.8 490,442.9 490.4,445.1 490.8,445.9 491.5,447.4 491.9,448 492.3,448.8 492.7,449.2 493,448.3 493.8,449.5 494.2,450.2 494.5,450.1 495.3,450 496,449.9 496.5,449.6 496.8,449.7 497.5,449.6 497.9,449.3 498.3,448.9 498.8,448 499,447.8 499.7,446.7 499.8,446.5 500.5,441.7 500.6,440.9 501.3,437.9 501.3,438.8 502,432.3 502.2,431.2 502.7,435.6 502.8,435.7 503.5,437.9 503.8,438.3 504.3,438 504.4,440.1 505,440.5 505.6,441.9 505.8,441.8"/>
<ellipse cx="464.6" cy="441.9" rx="3.1" ry="1.6" fill="#000"/>
<ellipse cx="468.7" cy="427.8" rx="3.1" ry="1.6" fill="#000"/>
<ellipse cx="501.1" cy="441.9" rx="3.1" ry="1.6" fill="#000"/>
<path d="M360.2 396.2 V504.8" stroke="#000" stroke-width="2.3" fill="none"/>
<path d="M351.7 504 H361.2" stroke="#000" stroke-width="1.6" fill="none"/>
<text transform="translate(340.6 504) rotate(-90)" font-size="8.7" text-anchor="middle" textLength="13" lengthAdjust="spacingAndGlyphs" fill="#000" stroke="#000" stroke-width="0.35">-1.82</text>
<path d="M351.7 477.2 H361.2" stroke="#000" stroke-width="1.6" fill="none"/>
<text transform="translate(340.6 477.2) rotate(-90)" font-size="8.7" text-anchor="middle" textLength="13" lengthAdjust="spacingAndGlyphs" fill="#000" stroke="#000" stroke-width="0.35">-0.52</text>
<path d="M351.7 450.5 H361.2" stroke="#000" stroke-width="1.6" fill="none"/>
<text transform="translate(340.6 450.5) rotate(-90)" font-size="8.7" text-anchor="middle" textLength="10.4" lengthAdjust="spacingAndGlyphs" fill="#000" stroke="#000" stroke-width="0.35">0.79</text>
<path d="M351.7 423.8 H361.2" stroke="#000" stroke-width="1.6" fill="none"/>
<text transform="translate(340.6 423.8) rotate(-90)" font-size="8.7" text-anchor="middle" textLength="10.4" lengthAdjust="spacingAndGlyphs" fill="#000" stroke="#000" stroke-width="0.35">2.09</text>
<path d="M351.7 397 H361.2" stroke="#000" stroke-width="1.6" fill="none"/>
<text transform="translate(340.6 397) rotate(-90)" font-size="8.7" text-anchor="middle" textLength="7.5" lengthAdjust="spacingAndGlyphs" fill="#000" stroke="#000" stroke-width="0.35">3.4</text>
<text transform="translate(309.1 450.5) rotate(-90)" font-size="10.3" text-anchor="middle" textLength="24.5" lengthAdjust="spacingAndGlyphs" fill="#000" stroke="#000" stroke-width="0.2">α=0.995</text>
<path d="M365 513.2 V508.4 H505.6 V513.2" stroke="#000" stroke-width="1.5" fill="none"/>
<text x="365.3" y="523.6" font-size="8.9" text-anchor="middle" textLength="58.6" lengthAdjust="spacingAndGlyphs" fill="#000" stroke="#000" stroke-width="0.2">2011−06</text>
<text x="505.8" y="523.6" font-size="8.9" text-anchor="middle" textLength="58.6" lengthAdjust="spacingAndGlyphs" fill="#000" stroke="#000" stroke-width="0.2">2014−02</text>
<text x="435.9" y="384.8" font-size="9.9" text-anchor="middle" textLength="33.8" lengthAdjust="spacingAndGlyphs" fill="#000" stroke="#000" stroke-width="0.45">TRM</text>
</g>
<g>
<polyline fill="none" stroke="#4682b4" stroke-width="1.3" stroke-linejoin="round" points="641.9,442 642.1,459.9 642.3,446.2 642.5,450.2 642.8,444.2 643,448.8 643.2,442.9 643.4,450.5 643.6,452.5 643.8,448.3 644,448.8 644.2,452 644.5,451.5 644.7,447.5 644.9,461.6 645.1,452.6 645.3,451.9 645.5,456.9 645.7,443.1 646,451.6 646.2,445 646.4,448.7 646.6,440.8 646.8,443.7 647,449.1 647.2,443.6 647.4,455.3 647.7,443.3 647.9,458.7 648.1,448.2 648.3,439.8 648.5,448.1 648.7,452.4 648.9,454.2 649.1,452.5 649.4,444.5 649.6,444.7 649.8,451.7 650,455.9 650.2,447 650.4,456.5 650.6,437.9 650.9,453.7 651.1,445.6 651.3,449.6 651.5,448.2 651.7,449 651.9,453.1 652.1,447.3 652.3,441.3 652.6,450.9 652.8,445.2 653,451.4 653.2,441.9 653.4,444.2 653.6,444.3 653.8,448 654.1,444.1 654.3,452.4 654.5,452.5 654.7,453.3 654.9,444.8 655.1,453.7 655.3,453.6 655.5,445 655.8,441.5 656,446.5 656.2,459.9 656.4,455.5 656.6,456 656.8,456.7 657,462.6 657.3,437.7 657.5,452.2 657.7,453.4 657.9,470.2 658.1,450.1 658.3,449.6 658.5,453.5 658.7,450.7 659,447.1 659.2,460.2 659.4,457.8 659.6,441.3 659.8,445.4 660,453.1 660.2,454.7 660.4,451.3 660.7,455 660.9,452.1 661.1,445.6 661.3,449.8 661.5,443.9 661.7,451.5 661.9,449 662.2,445 662.4,455.1 662.6,451.7 662.8,451.2 663,449.4 663.2,444.6 663.4,447.1 663.6,455.5 663.9,451.5 664.1,454.6 664.3,453.9 664.5,446.5 664.7,455.2 664.9,449.1 665.1,453.1 665.4,446.3 665.6,448.7 665.8,449.9 666,451 666.2,443.3 666.4,453.8 666.6,453.6 666.8,455 667.1,444.2 667.3,451.7 667.5,453.7 667.7,458.8 667.9,445.5 668.1,451 668.3,447.7 668.6,448.6 668.8,450.7 669,452.7 669.2,451.7 669.4,451.7 669.6,456.4 669.8,442.3 670,440.2 670.3,450.2 670.5,451.2 670.7,452.4 670.9,446.9 671.1,451.1 671.3,448.7 671.5,453.9 671.7,448.9 672,444.4 672.2,451.6 672.4,446.4 672.6,450.5 672.8,445 673,445.6 673.2,450.4 673.5,452.4 673.7,449.4 673.9,450.4 674.1,452.1 674.3,448.2 674.5,448.3 674.7,453.2 674.9,451 675.2,446.2 675.4,447.6 675.6,450.4 675.8,441.7 676,451.8 676.2,455.4 676.4,454.5 676.7,454.4 676.9,449.9 677.1,447.7 677.3,455 677.5,446 677.7,453.2 677.9,449.7 678.1,449 678.4,449.3 678.6,450.6 678.8,449.9 679,452.8 679.2,449.6 679.4,447.2 679.6,447 679.8,442.6 680.1,446.4 680.3,458.8 680.5,446.7 680.7,449.2 680.9,454.3 681.1,455.8 681.3,442.8 681.6,446.5 681.8,443.3 682,451.5 682.2,448 682.4,442.2 682.6,446.6 682.8,453.7 683,452 683.3,447.2 683.5,454.3 683.7,439.2 683.9,456.1 684.1,453.6 684.3,444.8 684.5,450.1 684.8,452 685,453 685.2,450.8 685.4,451 685.6,451.6 685.8,451.1 686,451.9 686.2,443.5 686.5,453.9 686.7,450.3 686.9,452.4 687.1,448.7 687.3,451 687.5,449.8 687.7,449 688,450 688.2,448 688.4,452.7 688.6,447.2 688.8,451 689,449.4 689.2,446.5 689.4,447.4 689.7,445.7 689.9,454.2 690.1,452.6 690.3,446.2 690.5,452.7 690.7,451 690.9,448.6 691.1,446.8 691.4,452.6 691.6,448 691.8,447.4 692,450.2 692.2,450.9 692.4,449.8 692.6,453.9 692.9,450.1 693.1,452.9 693.3,449 693.5,448.9 693.7,452.3 693.9,448.3 694.1,449.2 694.3,450.7 694.6,447 694.8,451.4 695,451.2 695.2,450.4 695.4,450.8 695.6,446.5 695.8,454.7 696.1,451.3 696.3,444.2 696.5,451.8 696.7,449.7 696.9,450.7 697.1,447.6 697.3,449.8 697.5,455 697.8,453.1 698,448.8 698.2,447.4 698.4,450.5 698.6,453.7 698.8,449.1 699,454.1 699.3,449.8 699.5,450.9 699.7,450.1 699.9,453.2 700.1,451.7 700.3,447.4 700.5,451.6 700.7,453.7 701,450.8 701.2,450.6 701.4,451.1 701.6,452.3 701.8,449 702,451 702.2,453.3 702.4,450.3 702.7,450.8 702.9,450.5 703.1,453.4 703.3,452.3 703.5,449.8 703.7,448.8 703.9,450.1 704.2,450.4 704.4,449.1 704.6,448.1 704.8,445.5 705,449.3 705.2,451.7 705.4,449.4 705.6,454.7 705.9,450.6 706.1,451.5 706.3,450.7 706.5,442.6 706.7,450.6 706.9,453.8 707.1,451.4 707.4,453 707.6,450.8 707.8,449.5 708,454.4 708.2,448.5 708.4,446.5 708.6,451.6 708.8,456.9 709.1,457.3 709.3,452.7 709.5,447.6 709.7,458.5 709.9,442.3 710.1,456.5 710.3,446.4 710.6,445.5 710.8,454.9 711,437.5 711.2,463.7 711.4,445.6 711.6,448.8 711.8,445.6 712,462.9 712.3,449.2 712.5,453.1 712.7,440.2 712.9,454.7 713.1,451.2 713.3,448 713.5,450 713.7,453.6 714,448.9 714.2,451.3 714.4,454.6 714.6,455.5 714.8,468.3 715,450.2 715.2,444.3 715.5,453.4 715.7,441.7 715.9,449.2 716.1,445.4 716.3,455.5 716.5,455.3 716.7,452.2 716.9,445.8 717.2,449.7 717.4,435.4 717.6,449.1 717.8,445.9 718,449.4 718.2,453.6 718.4,447.3 718.7,450 718.9,439.9 719.1,464.5 719.3,450 719.5,452.5 719.7,442.7 719.9,442.2 720.1,436.9 720.4,471.1 720.6,461.1 720.8,448.5 721,443.8 721.2,441.3 721.4,462.2 721.6,451.6 721.9,459.6 722.1,456.5 722.3,451.9 722.5,438.3 722.7,453.5 722.9,454.9 723.1,452.7 723.3,443.9 723.6,444.1 723.8,459.3 724,452.4 724.2,453.5 724.4,445 724.6,448.6 724.8,444.3 725,457.5 725.3,450.6 725.5,437.5 725.7,459.1 725.9,451.9 726.1,460.3 726.3,444.7 726.5,447.2 726.8,457 727,455 727.2,441.2 727.4,453.4 727.6,424.2 727.8,447.4 728,444.6 728.2,446.5 728.5,452 728.7,454.4 728.9,459.1 729.1,450.9 729.3,450.1 729.5,452.8 729.7,451.5 730,456 730.2,444.3 730.4,461.6 730.6,454.7 730.8,453.2 731,451.4 731.2,449.2 731.4,458.8 731.7,449.2 731.9,453.4 732.1,451.4 732.3,446.7 732.5,447.4 732.7,454 732.9,451 733.2,440.8 733.4,416.6 733.6,446 733.8,463.5 734,444.1 734.2,447.7 734.4,453.7 734.6,457.3 734.9,445.2 735.1,447 735.3,439.3 735.5,428.4 735.7,462.6 735.9,453.2 736.1,438.5 736.3,445.4 736.6,454.8 736.8,456.9 737,451.3 737.2,452.4 737.4,444.2 737.6,455 737.8,461.8 738.1,450.8 738.3,444.1 738.5,439.9 738.7,455.2 738.9,452.9 739.1,447.3 739.3,456.4 739.5,452.7 739.8,453.8 740,462.7 740.2,456.8 740.4,456 740.6,448.1 740.8,467.8 741,449.5 741.3,464.7 741.5,460.5 741.7,467 741.9,444.1 742.1,443.1 742.3,442.3 742.5,445.2 742.7,453.4 743,450 743.2,447.7 743.4,486.3 743.6,444.3 743.8,432.8 744,480 744.2,457.3 744.5,492.9 744.7,455.8 744.9,452.9 745.1,426.9 745.3,504 745.5,422.4 745.7,451.3 745.9,444.9 746.2,491 746.4,430.3 746.6,456 746.8,483.5 747,456.1 747.2,473.2 747.4,434.3 747.6,449.2 747.9,450.5 748.1,459.6 748.3,474 748.5,427.9 748.7,444.7 748.9,452.2 749.1,445.7 749.4,428.2 749.6,439.4 749.8,415.1 750,455.5 750.2,475.8 750.4,441 750.6,466.3 750.8,437.4 751.1,464.5 751.3,428.5 751.5,463.6 751.7,474.7 751.9,447.5 752.1,471.1 752.3,433 752.6,469.9 752.8,455.7 753,454 753.2,465.7 753.4,452.2 753.6,439.3 753.8,450.9 754,462.7 754.3,445.6 754.5,436 754.7,444.6 754.9,441.2 755.1,460.6 755.3,445.5 755.5,445.2 755.7,452.6 756,450.9 756.2,456 756.4,437.7 756.6,452.6 756.8,456.8 757,448.9 757.2,449.7 757.5,445.4 757.7,456.5 757.9,460.7 758.1,446.1 758.3,439.3 758.5,446.3 758.7,461.1 758.9,448.7 759.2,456.9 759.4,467.2 759.6,455.8 759.8,455.3 760,425.9 760.2,434.3 760.4,440.6 760.7,443.1 760.9,453.1 761.1,449.4 761.3,450.9 761.5,440.5 761.7,454.4 761.9,453.5 762.1,439.3 762.4,447.5 762.6,452.7 762.8,449.8 763,449.7 763.2,449.5 763.4,445 763.6,448.5 763.9,451.6 764.1,454.2 764.3,461.4 764.5,453.2 764.7,442.7 764.9,448.9 765.1,455.2 765.3,451.9 765.6,455.5 765.8,436.9 766,444.2 766.2,443.8 766.4,446 766.6,443.6 766.8,452.2 767,470.2 767.3,450.5 767.5,453.6 767.7,443.1 767.9,449.6 768.1,454.8 768.3,447.2 768.5,445 768.8,456.1 769,438.9 769.2,435.4 769.4,451.2 769.6,455 769.8,450.4 770,448.6 770.2,443.8 770.5,444.4 770.7,448.5 770.9,455.1 771.1,448.9 771.3,453.2 771.5,457.9 771.7,445.1 772,455 772.2,457.2 772.4,449.9 772.6,436.9 772.8,450.9 773,448.1 773.2,453 773.4,449.6 773.7,441.7 773.9,443.8 774.1,446 774.3,447.3 774.5,453.6 774.7,451.5 774.9,452.9 775.2,450.4 775.4,449.8 775.6,455.9 775.8,440.5 776,465.4 776.2,448.2 776.4,443 776.6,450.8 776.9,454.7 777.1,450.4 777.3,444.9 777.5,447.7 777.7,452.7 777.9,438.5 778.1,451.7 778.3,462.2 778.6,449.6 778.8,446.6 779,446.4 779.2,451 779.4,458.2 779.6,444.8 779.8,451.7 780.1,446.5 780.3,445.7 780.5,448.9 780.7,451.1 780.9,455.2 781.1,462.6 781.3,450.5 781.5,453.5 781.8,447.9 782,463.5 782.2,459.1 782.4,451"/>
<polyline fill="none" stroke="#f00" stroke-width="1.15" stroke-dasharray="2.4 1.4" points="641.9,432.6 642.6,433.1 642.7,432.9 643.4,433.2 644.2,433.4 644.9,433.6 645.7,433.7 646,433.7 646.4,433.7 647.2,433.7 647.9,433.6 648.7,432.9 649.4,433.2 649.6,433.3 650.2,432.5 650.5,432 650.9,432.7 651.3,433.4 651.7,433.7 652.4,434.2 652.8,434.3 653.2,433.8 653.9,434.1 654.7,434.3 655.1,434.3 655.4,433.4 656,433.2 656.2,431.8 656.9,429 656.9,429.4 657.7,424.6 658.1,423.3 658.4,427.2 658.5,427.8 659.2,430.5 659.2,430.7 659.7,432.9 659.9,433.2 660.7,434.3 660.8,434.4 661.4,434.7 662.2,435 662.9,434.7 663.7,435.2 664.2,435.5 664.4,435.5 665.2,435 665.9,435.3 666.5,435.4 666.7,435 667.4,434.7 668.2,434.9 668.4,435.1 668.9,434.1 669.3,433.6 669.7,433.5 670.5,433.4 671.1,433.2 671.2,433.4 672,434.2 672.2,434.3 672.7,434.6 673.5,434.9 674.2,435.1 674.5,435.1 675,435.3 675.7,435.4 676.5,435.5 677.2,435.6 677.9,435.6 678,435.7 678.7,435.5 679.5,435.4 680.2,434.7 681,434.8 681.4,434.7 681.7,434.2 682.5,434.4 683.2,434.4 683.6,434.4 684,434.9 684.6,435.8 684.7,435.9 685.5,435.9 686.2,436.5 686.6,436.8 687,436.9 687.7,437.3 688.5,437.7 689.2,438 689.3,438 690,438.7 690.7,439 690.9,439.3 691.5,439.5 692.2,439.8 693,440.1 693.7,439.9 693.9,440.3 694.5,440.4 695.2,440.3 696,440.5 696.7,441.1 697.3,441.5 697.5,441.5 698.3,441.4 699,441.7 699.8,441.9 700.5,442 700.8,442.1 701.3,442 702,441.9 702.8,441.7 703,441.6 703.5,441.6 704.3,441.2 705,441.2 705.8,441.2 706.5,440.9 706.7,441.1 707.3,439.8 707.6,439.2 708,439.1 708.8,439 709.5,438.4 710.1,438.7 710.3,438.3 711,436.7 711,436.8 711.8,436.7 712.5,436.6 713.3,436.5 713.6,436.4 714,435.4 714.5,434.3 714.8,433.6 715.5,433.8 716.3,433.8 717,433.6 717,432.9 717.8,430.1 717.9,430.5 718.5,430.2 719.3,430.3 719.3,430.1 720,428.6 720.2,428.4 720.8,430.1 721.1,431 721.5,431.4 722.3,432.1 723,432.7 723.1,432.7 723.8,433.6 724,433.7 724.5,434 725.3,434.3 725.9,434.4 726,434.4 726.8,433.5 727.6,433.1 727.7,433.7 728.3,432.2 728.6,431.9 729.1,432.1 729.8,432.8 730.4,433 730.6,432.3 731.3,431.8 731.8,431.4 732.1,429.2 732.7,423.5 732.8,423.5 733.6,422.9 733.6,422.7 734.3,418.9 734.5,418.5 735.1,421.2 735.1,422.7 735.8,424.2 736.4,425.9 736.6,426.5 737,428.1 737.3,428.4 738.1,429.3 738.4,429.6 738.8,430.7 739.2,431.5 739.6,431.9 740.3,432.5 740.7,432.7 741.1,432.6 741.8,432.3 742.3,432 742.6,431.1 743.2,428.7 743.3,427.1 744.1,413.7 744.1,413.7 744.8,411.2 744.8,410.8 745.6,401.3 745.7,399.4 746.3,397 746.9,398 747.1,398.9 747.3,401 747.8,402.1 748.2,403.1 748.6,404.6 748.8,405.3 749.3,406.3 749.8,406.8 750.1,408.5 750.6,411.1 750.8,411.8 751.6,412 752.1,413.8 752.3,414.5 752.9,416.5 753.1,415.4 753.8,416.1 754.4,418.3 754.6,417.9 755,421.3 755.4,421.5 756.1,423.1 756.2,423.5 756.7,425 756.9,425.1 757.6,425.8 757.8,426 758.4,425.9 758.7,425.6 759.1,425.1 759.6,424.1 759.9,424.2 760.6,423.9 761.2,423.4 761.4,423.3 762,426.6 762.1,426.6 762.9,427.9 763.5,428.8 763.6,429.1 764.3,430.7 764.4,430.9 765.1,431.5 765.8,432 765.9,432.1 766.6,431.6 767.4,431.1 767.6,430.7 768.1,429.5 768.9,429.5 769.2,429.5 769.6,430 770,430.5 770.4,430.8 771.1,430.2 771.5,431.1 771.9,431 772.6,431.5 773.4,431.1 773.8,431.8 774.1,432.1 774.5,432.9 774.9,433.1 775.6,433.5 776.1,433.7 776.4,433.8 777.1,434.1 777.9,434.3 778.4,434.4 778.6,434.7 779.4,435.2 780.1,435.7 780.2,435.6 780.9,435.2 781.6,435.4 781.8,435.5 782.4,434.9"/>
<ellipse cx="706.5" cy="442.6" rx="3.1" ry="1.6" fill="#000"/>
<ellipse cx="711" cy="437.5" rx="3.1" ry="1.6" fill="#000"/>
<ellipse cx="727.7" cy="424.2" rx="3.1" ry="1.6" fill="#000"/>
<ellipse cx="733.4" cy="416.6" rx="3.1" ry="1.6" fill="#000"/>
<ellipse cx="760.1" cy="425.9" rx="3.1" ry="1.6" fill="#000"/>
<path d="M636.6 396.2 V504.8" stroke="#000" stroke-width="2.3" fill="none"/>
<path d="M628.1 504 H637.6" stroke="#000" stroke-width="1.6" fill="none"/>
<text transform="translate(617 504) rotate(-90)" font-size="8.7" text-anchor="middle" textLength="13" lengthAdjust="spacingAndGlyphs" fill="#000" stroke="#000" stroke-width="0.35">-7.38</text>
<path d="M628.1 477.2 H637.6" stroke="#000" stroke-width="1.6" fill="none"/>
<text transform="translate(617 477.2) rotate(-90)" font-size="8.7" text-anchor="middle" textLength="13" lengthAdjust="spacingAndGlyphs" fill="#000" stroke="#000" stroke-width="0.35">-3.68</text>
<path d="M628.1 450.5 H637.6" stroke="#000" stroke-width="1.6" fill="none"/>
<text transform="translate(617 450.5) rotate(-90)" font-size="8.7" text-anchor="middle" textLength="10.4" lengthAdjust="spacingAndGlyphs" fill="#000" stroke="#000" stroke-width="0.35">0.02</text>
<path d="M628.1 423.8 H637.6" stroke="#000" stroke-width="1.6" fill="none"/>
<text transform="translate(617 423.8) rotate(-90)" font-size="8.7" text-anchor="middle" textLength="10.4" lengthAdjust="spacingAndGlyphs" fill="#000" stroke="#000" stroke-width="0.35">3.72</text>
<path d="M628.1 397 H637.6" stroke="#000" stroke-width="1.6" fill="none"/>
<text transform="translate(617 397) rotate(-90)" font-size="8.7" text-anchor="middle" textLength="10.4" lengthAdjust="spacingAndGlyphs" fill="#000" stroke="#000" stroke-width="0.35">7.42</text>
<text transform="translate(585.5 450.5) rotate(-90)" font-size="10.3" text-anchor="middle" textLength="24.5" lengthAdjust="spacingAndGlyphs" fill="#000" stroke="#000" stroke-width="0.2">α=0.995</text>
<path d="M641.6 513.2 V508.4 H782.2 V513.2" stroke="#000" stroke-width="1.5" fill="none"/>
<text x="641.9" y="523.6" font-size="8.9" text-anchor="middle" textLength="58.6" lengthAdjust="spacingAndGlyphs" fill="#000" stroke="#000" stroke-width="0.2">2011−06</text>
<text x="782.4" y="523.6" font-size="8.9" text-anchor="middle" textLength="58.6" lengthAdjust="spacingAndGlyphs" fill="#000" stroke="#000" stroke-width="0.2">2014−02</text>
<text x="712.4" y="384.8" font-size="9.9" text-anchor="middle" textLength="30.6" lengthAdjust="spacingAndGlyphs" fill="#000" stroke="#000" stroke-width="0.45">TES</text>
</g>
</svg></body></html>
